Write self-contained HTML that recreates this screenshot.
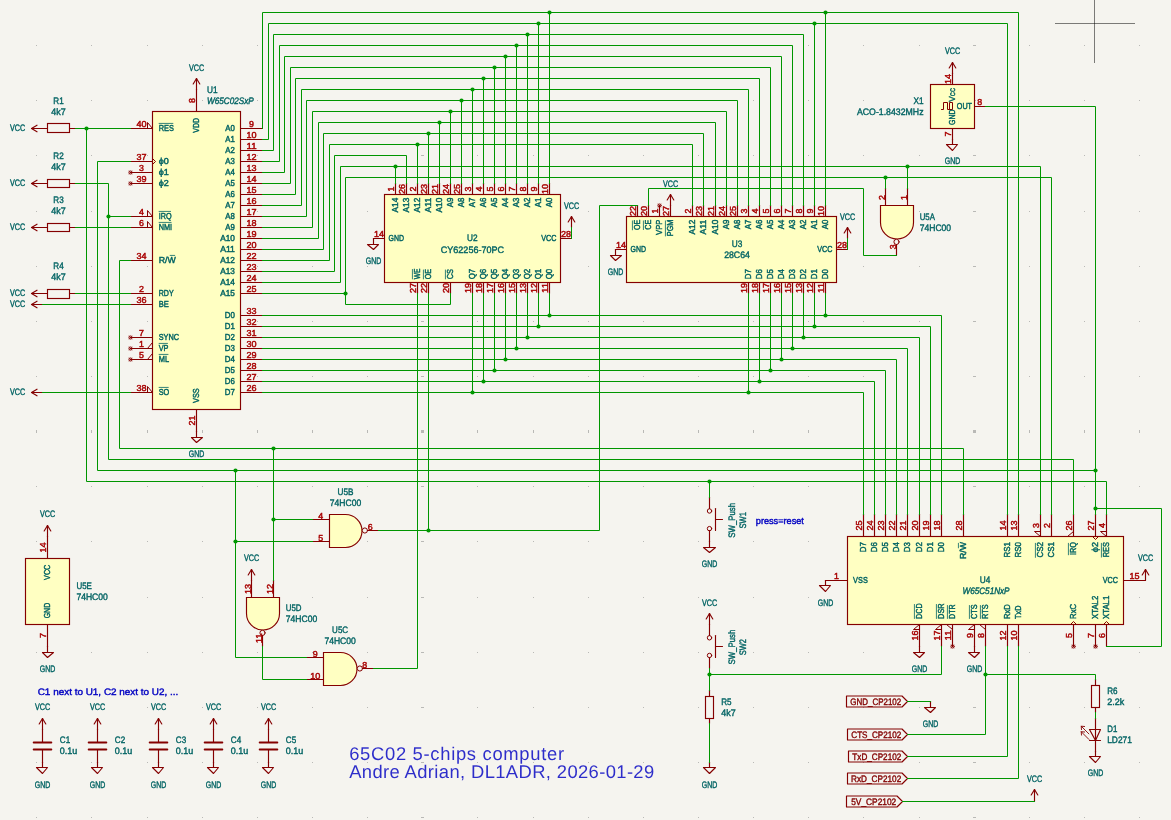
<!DOCTYPE html>
<html lang="en"><head><meta charset="utf-8"><title>65C02 5-chips computer</title>
<style>
html,body{margin:0;padding:0;background:#f5f4ef;overflow:hidden}
svg{display:block;will-change:transform}
text{font-family:"Liberation Sans","DejaVu Sans",sans-serif;font-size:9.4px;stroke-width:0.4px;text-rendering:geometricPrecision}
</style></head><body>
<svg width="1171" height="820" viewBox="0 0 1171 820">
<rect width="1171" height="820" fill="#f5f4ef"/>
<g fill="#b9b9b6" shape-rendering="crispEdges">
<rect x="36" y="45" width="1" height="1"/>
<rect x="36" y="100" width="1" height="1"/>
<rect x="36" y="155" width="1" height="1"/>
<rect x="36" y="211" width="1" height="1"/>
<rect x="36" y="266" width="1" height="1"/>
<rect x="36" y="321" width="1" height="1"/>
<rect x="36" y="376" width="1" height="1"/>
<rect x="36" y="430" width="1" height="3"/>
<rect x="36" y="486" width="1" height="1"/>
<rect x="36" y="541" width="1" height="1"/>
<rect x="36" y="597" width="1" height="1"/>
<rect x="36" y="652" width="1" height="1"/>
<rect x="36" y="707" width="1" height="1"/>
<rect x="36" y="762" width="1" height="1"/>
<rect x="36" y="817" width="1" height="1"/>
<rect x="91" y="45" width="1" height="1"/>
<rect x="91" y="100" width="1" height="1"/>
<rect x="91" y="155" width="1" height="1"/>
<rect x="91" y="211" width="1" height="1"/>
<rect x="91" y="266" width="1" height="1"/>
<rect x="91" y="321" width="1" height="1"/>
<rect x="91" y="376" width="1" height="1"/>
<rect x="91" y="430" width="1" height="3"/>
<rect x="91" y="486" width="1" height="1"/>
<rect x="91" y="541" width="1" height="1"/>
<rect x="91" y="597" width="1" height="1"/>
<rect x="91" y="652" width="1" height="1"/>
<rect x="91" y="707" width="1" height="1"/>
<rect x="91" y="762" width="1" height="1"/>
<rect x="91" y="817" width="1" height="1"/>
<rect x="147" y="45" width="1" height="1"/>
<rect x="147" y="100" width="1" height="1"/>
<rect x="147" y="155" width="1" height="1"/>
<rect x="147" y="211" width="1" height="1"/>
<rect x="147" y="266" width="1" height="1"/>
<rect x="147" y="321" width="1" height="1"/>
<rect x="147" y="376" width="1" height="1"/>
<rect x="147" y="430" width="1" height="3"/>
<rect x="147" y="486" width="1" height="1"/>
<rect x="147" y="541" width="1" height="1"/>
<rect x="147" y="597" width="1" height="1"/>
<rect x="147" y="652" width="1" height="1"/>
<rect x="147" y="707" width="1" height="1"/>
<rect x="147" y="762" width="1" height="1"/>
<rect x="147" y="817" width="1" height="1"/>
<rect x="202" y="45" width="1" height="1"/>
<rect x="202" y="100" width="1" height="1"/>
<rect x="202" y="155" width="1" height="1"/>
<rect x="202" y="211" width="1" height="1"/>
<rect x="202" y="266" width="1" height="1"/>
<rect x="202" y="321" width="1" height="1"/>
<rect x="202" y="376" width="1" height="1"/>
<rect x="202" y="430" width="1" height="3"/>
<rect x="202" y="486" width="1" height="1"/>
<rect x="202" y="541" width="1" height="1"/>
<rect x="202" y="597" width="1" height="1"/>
<rect x="202" y="652" width="1" height="1"/>
<rect x="202" y="707" width="1" height="1"/>
<rect x="202" y="762" width="1" height="1"/>
<rect x="202" y="817" width="1" height="1"/>
<rect x="257" y="45" width="1" height="1"/>
<rect x="257" y="100" width="1" height="1"/>
<rect x="257" y="155" width="1" height="1"/>
<rect x="257" y="211" width="1" height="1"/>
<rect x="257" y="266" width="1" height="1"/>
<rect x="257" y="321" width="1" height="1"/>
<rect x="257" y="376" width="1" height="1"/>
<rect x="257" y="430" width="1" height="3"/>
<rect x="257" y="486" width="1" height="1"/>
<rect x="257" y="541" width="1" height="1"/>
<rect x="257" y="597" width="1" height="1"/>
<rect x="257" y="652" width="1" height="1"/>
<rect x="257" y="707" width="1" height="1"/>
<rect x="257" y="762" width="1" height="1"/>
<rect x="257" y="817" width="1" height="1"/>
<rect x="312" y="45" width="1" height="1"/>
<rect x="312" y="100" width="1" height="1"/>
<rect x="312" y="155" width="1" height="1"/>
<rect x="312" y="211" width="1" height="1"/>
<rect x="312" y="266" width="1" height="1"/>
<rect x="312" y="321" width="1" height="1"/>
<rect x="312" y="376" width="1" height="1"/>
<rect x="312" y="430" width="1" height="3"/>
<rect x="312" y="486" width="1" height="1"/>
<rect x="312" y="541" width="1" height="1"/>
<rect x="312" y="597" width="1" height="1"/>
<rect x="312" y="652" width="1" height="1"/>
<rect x="312" y="707" width="1" height="1"/>
<rect x="312" y="762" width="1" height="1"/>
<rect x="312" y="817" width="1" height="1"/>
<rect x="367" y="45" width="1" height="1"/>
<rect x="367" y="100" width="1" height="1"/>
<rect x="367" y="155" width="1" height="1"/>
<rect x="367" y="211" width="1" height="1"/>
<rect x="367" y="266" width="1" height="1"/>
<rect x="367" y="321" width="1" height="1"/>
<rect x="367" y="376" width="1" height="1"/>
<rect x="367" y="430" width="1" height="3"/>
<rect x="367" y="486" width="1" height="1"/>
<rect x="367" y="541" width="1" height="1"/>
<rect x="367" y="597" width="1" height="1"/>
<rect x="367" y="652" width="1" height="1"/>
<rect x="367" y="707" width="1" height="1"/>
<rect x="367" y="762" width="1" height="1"/>
<rect x="367" y="817" width="1" height="1"/>
<rect x="421" y="45" width="3" height="1"/>
<rect x="421" y="100" width="3" height="1"/>
<rect x="421" y="155" width="3" height="1"/>
<rect x="421" y="211" width="3" height="1"/>
<rect x="421" y="266" width="3" height="1"/>
<rect x="421" y="321" width="3" height="1"/>
<rect x="421" y="376" width="3" height="1"/>
<rect x="421" y="430" width="3" height="3"/>
<rect x="421" y="486" width="3" height="1"/>
<rect x="421" y="541" width="3" height="1"/>
<rect x="421" y="597" width="3" height="1"/>
<rect x="421" y="652" width="3" height="1"/>
<rect x="421" y="707" width="3" height="1"/>
<rect x="421" y="762" width="3" height="1"/>
<rect x="421" y="817" width="3" height="1"/>
<rect x="477" y="45" width="1" height="1"/>
<rect x="477" y="100" width="1" height="1"/>
<rect x="477" y="155" width="1" height="1"/>
<rect x="477" y="211" width="1" height="1"/>
<rect x="477" y="266" width="1" height="1"/>
<rect x="477" y="321" width="1" height="1"/>
<rect x="477" y="376" width="1" height="1"/>
<rect x="477" y="430" width="1" height="3"/>
<rect x="477" y="486" width="1" height="1"/>
<rect x="477" y="541" width="1" height="1"/>
<rect x="477" y="597" width="1" height="1"/>
<rect x="477" y="652" width="1" height="1"/>
<rect x="477" y="707" width="1" height="1"/>
<rect x="477" y="762" width="1" height="1"/>
<rect x="477" y="817" width="1" height="1"/>
<rect x="533" y="45" width="1" height="1"/>
<rect x="533" y="100" width="1" height="1"/>
<rect x="533" y="155" width="1" height="1"/>
<rect x="533" y="211" width="1" height="1"/>
<rect x="533" y="266" width="1" height="1"/>
<rect x="533" y="321" width="1" height="1"/>
<rect x="533" y="376" width="1" height="1"/>
<rect x="533" y="430" width="1" height="3"/>
<rect x="533" y="486" width="1" height="1"/>
<rect x="533" y="541" width="1" height="1"/>
<rect x="533" y="597" width="1" height="1"/>
<rect x="533" y="652" width="1" height="1"/>
<rect x="533" y="707" width="1" height="1"/>
<rect x="533" y="762" width="1" height="1"/>
<rect x="533" y="817" width="1" height="1"/>
<rect x="588" y="45" width="1" height="1"/>
<rect x="588" y="100" width="1" height="1"/>
<rect x="588" y="155" width="1" height="1"/>
<rect x="588" y="211" width="1" height="1"/>
<rect x="588" y="266" width="1" height="1"/>
<rect x="588" y="321" width="1" height="1"/>
<rect x="588" y="376" width="1" height="1"/>
<rect x="588" y="430" width="1" height="3"/>
<rect x="588" y="486" width="1" height="1"/>
<rect x="588" y="541" width="1" height="1"/>
<rect x="588" y="597" width="1" height="1"/>
<rect x="588" y="652" width="1" height="1"/>
<rect x="588" y="707" width="1" height="1"/>
<rect x="588" y="762" width="1" height="1"/>
<rect x="588" y="817" width="1" height="1"/>
<rect x="643" y="45" width="1" height="1"/>
<rect x="643" y="100" width="1" height="1"/>
<rect x="643" y="155" width="1" height="1"/>
<rect x="643" y="211" width="1" height="1"/>
<rect x="643" y="266" width="1" height="1"/>
<rect x="643" y="321" width="1" height="1"/>
<rect x="643" y="376" width="1" height="1"/>
<rect x="643" y="430" width="1" height="3"/>
<rect x="643" y="486" width="1" height="1"/>
<rect x="643" y="541" width="1" height="1"/>
<rect x="643" y="597" width="1" height="1"/>
<rect x="643" y="652" width="1" height="1"/>
<rect x="643" y="707" width="1" height="1"/>
<rect x="643" y="762" width="1" height="1"/>
<rect x="643" y="817" width="1" height="1"/>
<rect x="698" y="45" width="1" height="1"/>
<rect x="698" y="100" width="1" height="1"/>
<rect x="698" y="155" width="1" height="1"/>
<rect x="698" y="211" width="1" height="1"/>
<rect x="698" y="266" width="1" height="1"/>
<rect x="698" y="321" width="1" height="1"/>
<rect x="698" y="376" width="1" height="1"/>
<rect x="698" y="430" width="1" height="3"/>
<rect x="698" y="486" width="1" height="1"/>
<rect x="698" y="541" width="1" height="1"/>
<rect x="698" y="597" width="1" height="1"/>
<rect x="698" y="652" width="1" height="1"/>
<rect x="698" y="707" width="1" height="1"/>
<rect x="698" y="762" width="1" height="1"/>
<rect x="698" y="817" width="1" height="1"/>
<rect x="753" y="45" width="1" height="1"/>
<rect x="753" y="100" width="1" height="1"/>
<rect x="753" y="155" width="1" height="1"/>
<rect x="753" y="211" width="1" height="1"/>
<rect x="753" y="266" width="1" height="1"/>
<rect x="753" y="321" width="1" height="1"/>
<rect x="753" y="376" width="1" height="1"/>
<rect x="753" y="430" width="1" height="3"/>
<rect x="753" y="486" width="1" height="1"/>
<rect x="753" y="541" width="1" height="1"/>
<rect x="753" y="597" width="1" height="1"/>
<rect x="753" y="652" width="1" height="1"/>
<rect x="753" y="707" width="1" height="1"/>
<rect x="753" y="762" width="1" height="1"/>
<rect x="753" y="817" width="1" height="1"/>
<rect x="808" y="45" width="1" height="1"/>
<rect x="808" y="100" width="1" height="1"/>
<rect x="808" y="155" width="1" height="1"/>
<rect x="808" y="211" width="1" height="1"/>
<rect x="808" y="266" width="1" height="1"/>
<rect x="808" y="321" width="1" height="1"/>
<rect x="808" y="376" width="1" height="1"/>
<rect x="808" y="430" width="1" height="3"/>
<rect x="808" y="486" width="1" height="1"/>
<rect x="808" y="541" width="1" height="1"/>
<rect x="808" y="597" width="1" height="1"/>
<rect x="808" y="652" width="1" height="1"/>
<rect x="808" y="707" width="1" height="1"/>
<rect x="808" y="762" width="1" height="1"/>
<rect x="808" y="817" width="1" height="1"/>
<rect x="863" y="45" width="1" height="1"/>
<rect x="863" y="100" width="1" height="1"/>
<rect x="863" y="155" width="1" height="1"/>
<rect x="863" y="211" width="1" height="1"/>
<rect x="863" y="266" width="1" height="1"/>
<rect x="863" y="321" width="1" height="1"/>
<rect x="863" y="376" width="1" height="1"/>
<rect x="863" y="430" width="1" height="3"/>
<rect x="863" y="486" width="1" height="1"/>
<rect x="863" y="541" width="1" height="1"/>
<rect x="863" y="597" width="1" height="1"/>
<rect x="863" y="652" width="1" height="1"/>
<rect x="863" y="707" width="1" height="1"/>
<rect x="863" y="762" width="1" height="1"/>
<rect x="863" y="817" width="1" height="1"/>
<rect x="919" y="45" width="1" height="1"/>
<rect x="919" y="100" width="1" height="1"/>
<rect x="919" y="155" width="1" height="1"/>
<rect x="919" y="211" width="1" height="1"/>
<rect x="919" y="266" width="1" height="1"/>
<rect x="919" y="321" width="1" height="1"/>
<rect x="919" y="376" width="1" height="1"/>
<rect x="919" y="430" width="1" height="3"/>
<rect x="919" y="486" width="1" height="1"/>
<rect x="919" y="541" width="1" height="1"/>
<rect x="919" y="597" width="1" height="1"/>
<rect x="919" y="652" width="1" height="1"/>
<rect x="919" y="707" width="1" height="1"/>
<rect x="919" y="762" width="1" height="1"/>
<rect x="919" y="817" width="1" height="1"/>
<rect x="973" y="45" width="3" height="1"/>
<rect x="973" y="100" width="3" height="1"/>
<rect x="973" y="155" width="3" height="1"/>
<rect x="973" y="211" width="3" height="1"/>
<rect x="973" y="266" width="3" height="1"/>
<rect x="973" y="321" width="3" height="1"/>
<rect x="973" y="376" width="3" height="1"/>
<rect x="973" y="430" width="3" height="3"/>
<rect x="973" y="486" width="3" height="1"/>
<rect x="973" y="541" width="3" height="1"/>
<rect x="973" y="597" width="3" height="1"/>
<rect x="973" y="652" width="3" height="1"/>
<rect x="973" y="707" width="3" height="1"/>
<rect x="973" y="762" width="3" height="1"/>
<rect x="973" y="817" width="3" height="1"/>
<rect x="1029" y="45" width="1" height="1"/>
<rect x="1029" y="100" width="1" height="1"/>
<rect x="1029" y="155" width="1" height="1"/>
<rect x="1029" y="211" width="1" height="1"/>
<rect x="1029" y="266" width="1" height="1"/>
<rect x="1029" y="321" width="1" height="1"/>
<rect x="1029" y="376" width="1" height="1"/>
<rect x="1029" y="430" width="1" height="3"/>
<rect x="1029" y="486" width="1" height="1"/>
<rect x="1029" y="541" width="1" height="1"/>
<rect x="1029" y="597" width="1" height="1"/>
<rect x="1029" y="652" width="1" height="1"/>
<rect x="1029" y="707" width="1" height="1"/>
<rect x="1029" y="762" width="1" height="1"/>
<rect x="1029" y="817" width="1" height="1"/>
<rect x="1084" y="45" width="1" height="1"/>
<rect x="1084" y="100" width="1" height="1"/>
<rect x="1084" y="155" width="1" height="1"/>
<rect x="1084" y="211" width="1" height="1"/>
<rect x="1084" y="266" width="1" height="1"/>
<rect x="1084" y="321" width="1" height="1"/>
<rect x="1084" y="376" width="1" height="1"/>
<rect x="1084" y="430" width="1" height="3"/>
<rect x="1084" y="486" width="1" height="1"/>
<rect x="1084" y="541" width="1" height="1"/>
<rect x="1084" y="597" width="1" height="1"/>
<rect x="1084" y="652" width="1" height="1"/>
<rect x="1084" y="707" width="1" height="1"/>
<rect x="1084" y="762" width="1" height="1"/>
<rect x="1084" y="817" width="1" height="1"/>
<rect x="1139" y="45" width="1" height="1"/>
<rect x="1139" y="100" width="1" height="1"/>
<rect x="1139" y="155" width="1" height="1"/>
<rect x="1139" y="211" width="1" height="1"/>
<rect x="1139" y="266" width="1" height="1"/>
<rect x="1139" y="321" width="1" height="1"/>
<rect x="1139" y="376" width="1" height="1"/>
<rect x="1139" y="430" width="1" height="3"/>
<rect x="1139" y="486" width="1" height="1"/>
<rect x="1139" y="541" width="1" height="1"/>
<rect x="1139" y="597" width="1" height="1"/>
<rect x="1139" y="652" width="1" height="1"/>
<rect x="1139" y="707" width="1" height="1"/>
<rect x="1139" y="762" width="1" height="1"/>
<rect x="1139" y="817" width="1" height="1"/>
<rect x="1194" y="45" width="1" height="1"/>
<rect x="1194" y="100" width="1" height="1"/>
<rect x="1194" y="155" width="1" height="1"/>
<rect x="1194" y="211" width="1" height="1"/>
<rect x="1194" y="266" width="1" height="1"/>
<rect x="1194" y="321" width="1" height="1"/>
<rect x="1194" y="376" width="1" height="1"/>
<rect x="1194" y="430" width="1" height="3"/>
<rect x="1194" y="486" width="1" height="1"/>
<rect x="1194" y="541" width="1" height="1"/>
<rect x="1194" y="597" width="1" height="1"/>
<rect x="1194" y="652" width="1" height="1"/>
<rect x="1194" y="707" width="1" height="1"/>
<rect x="1194" y="762" width="1" height="1"/>
<rect x="1194" y="817" width="1" height="1"/>
</g>
<g>
<rect x="152.5" y="111.5" width="88" height="298" fill="#ffffc2" stroke="#840000" stroke-width="1.15"/>
<rect x="47.5" y="123.5" width="22" height="9" fill="none" stroke="#840000" stroke-width="1.15"/>
<rect x="47.5" y="179.5" width="22" height="8" fill="none" stroke="#840000" stroke-width="1.15"/>
<rect x="47.5" y="223.5" width="22" height="8" fill="none" stroke="#840000" stroke-width="1.15"/>
<rect x="47.5" y="289.5" width="22" height="9" fill="none" stroke="#840000" stroke-width="1.15"/>
<rect x="384.5" y="194.5" width="176" height="88" fill="#ffffc2" stroke="#840000" stroke-width="1.15"/>
<rect x="626.5" y="216.5" width="210" height="66" fill="#ffffc2" stroke="#840000" stroke-width="1.15"/>
<rect x="847.5" y="536.5" width="276" height="88" fill="#ffffc2" stroke="#840000" stroke-width="1.15"/>
<path d="M913.5 222.5V205.5H880.5V222.5A16.5 16.5 0 0 0 913.5 222.5Z" fill="#ffffc2" stroke="#840000" stroke-width="1.15"/>
<rect x="930.5" y="84.5" width="44" height="44" fill="#ffffc2" stroke="#840000" stroke-width="1.15"/>
<path d="M345.5 514.5H329.5V547.5H345.5A16.5 16.5 0 0 0 345.5 514.5Z" fill="#ffffc2" stroke="#840000" stroke-width="1.15"/>
<path d="M340.5 652.5H323.5V685.5H340.5A16.5 16.5 0 0 0 340.5 652.5Z" fill="#ffffc2" stroke="#840000" stroke-width="1.15"/>
<path d="M279.5 613.5V597.5H246.5V613.5A16.5 16.5 0 0 0 279.5 613.5Z" fill="#ffffc2" stroke="#840000" stroke-width="1.15"/>
<rect x="25.5" y="558.5" width="44" height="66" fill="#ffffc2" stroke="#840000" stroke-width="1.15"/>
<rect x="705.5" y="696.5" width="8" height="22" fill="none" stroke="#840000" stroke-width="1.15"/>
<rect x="1091.5" y="685.5" width="8" height="22" fill="none" stroke="#840000" stroke-width="1.15"/>
</g>
<g stroke-linecap="round" stroke-linejoin="round">
<path d="M152.5 128.5 L130.5 128.5" stroke="#840000" stroke-width="1.15" fill="none"/>
<path d="M147.5 128.5 L147.5 122.5 L152.5 128.5" stroke="#840000" stroke-width="1" fill="none"/>
<path d="M152.5 161.5 L130.5 161.5" stroke="#840000" stroke-width="1.15" fill="none"/>
<path d="M152.5 158.5 L155.5 161.5 L152.5 164.5" stroke="#840000" stroke-width="1" fill="none"/>
<path d="M152.5 172.5 L130.5 172.5" stroke="#840000" stroke-width="1.15" fill="none"/>
<path d="M152.5 183.5 L130.5 183.5" stroke="#840000" stroke-width="1.15" fill="none"/>
<path d="M152.5 216.5 L130.5 216.5" stroke="#840000" stroke-width="1.15" fill="none"/>
<path d="M147.5 216.5 L147.5 210.5 L152.5 216.5" stroke="#840000" stroke-width="1" fill="none"/>
<path d="M152.5 227.5 L130.5 227.5" stroke="#840000" stroke-width="1.15" fill="none"/>
<path d="M147.5 227.5 L147.5 221.5 L152.5 227.5" stroke="#840000" stroke-width="1" fill="none"/>
<path d="M152.5 260.5 L130.5 260.5" stroke="#840000" stroke-width="1.15" fill="none"/>
<path d="M152.5 293.5 L130.5 293.5" stroke="#840000" stroke-width="1.15" fill="none"/>
<path d="M152.5 304.5 L130.5 304.5" stroke="#840000" stroke-width="1.15" fill="none"/>
<path d="M152.5 337.5 L130.5 337.5" stroke="#840000" stroke-width="1.15" fill="none"/>
<path d="M152.5 348.5 L130.5 348.5" stroke="#840000" stroke-width="1.15" fill="none"/>
<path d="M147.5 348.5 L152.5 342.5" stroke="#840000" stroke-width="1" fill="none"/>
<path d="M152.5 359.5 L130.5 359.5" stroke="#840000" stroke-width="1.15" fill="none"/>
<path d="M147.5 359.5 L152.5 353.5" stroke="#840000" stroke-width="1" fill="none"/>
<path d="M152.5 392.5 L130.5 392.5" stroke="#840000" stroke-width="1.15" fill="none"/>
<path d="M147.5 392.5 L147.5 386.5 L152.5 392.5" stroke="#840000" stroke-width="1" fill="none"/>
<path d="M240.5 128.5 L262.5 128.5" stroke="#840000" stroke-width="1.15" fill="none"/>
<path d="M240.5 139.5 L262.5 139.5" stroke="#840000" stroke-width="1.15" fill="none"/>
<path d="M240.5 150.5 L262.5 150.5" stroke="#840000" stroke-width="1.15" fill="none"/>
<path d="M240.5 161.5 L262.5 161.5" stroke="#840000" stroke-width="1.15" fill="none"/>
<path d="M240.5 172.5 L262.5 172.5" stroke="#840000" stroke-width="1.15" fill="none"/>
<path d="M240.5 183.5 L262.5 183.5" stroke="#840000" stroke-width="1.15" fill="none"/>
<path d="M240.5 194.5 L262.5 194.5" stroke="#840000" stroke-width="1.15" fill="none"/>
<path d="M240.5 205.5 L262.5 205.5" stroke="#840000" stroke-width="1.15" fill="none"/>
<path d="M240.5 216.5 L262.5 216.5" stroke="#840000" stroke-width="1.15" fill="none"/>
<path d="M240.5 227.5 L262.5 227.5" stroke="#840000" stroke-width="1.15" fill="none"/>
<path d="M240.5 238.5 L262.5 238.5" stroke="#840000" stroke-width="1.15" fill="none"/>
<path d="M240.5 249.5 L262.5 249.5" stroke="#840000" stroke-width="1.15" fill="none"/>
<path d="M240.5 260.5 L262.5 260.5" stroke="#840000" stroke-width="1.15" fill="none"/>
<path d="M240.5 271.5 L262.5 271.5" stroke="#840000" stroke-width="1.15" fill="none"/>
<path d="M240.5 282.5 L262.5 282.5" stroke="#840000" stroke-width="1.15" fill="none"/>
<path d="M240.5 293.5 L262.5 293.5" stroke="#840000" stroke-width="1.15" fill="none"/>
<path d="M240.5 315.5 L262.5 315.5" stroke="#840000" stroke-width="1.15" fill="none"/>
<path d="M240.5 326.5 L262.5 326.5" stroke="#840000" stroke-width="1.15" fill="none"/>
<path d="M240.5 337.5 L262.5 337.5" stroke="#840000" stroke-width="1.15" fill="none"/>
<path d="M240.5 348.5 L262.5 348.5" stroke="#840000" stroke-width="1.15" fill="none"/>
<path d="M240.5 359.5 L262.5 359.5" stroke="#840000" stroke-width="1.15" fill="none"/>
<path d="M240.5 370.5 L262.5 370.5" stroke="#840000" stroke-width="1.15" fill="none"/>
<path d="M240.5 381.5 L262.5 381.5" stroke="#840000" stroke-width="1.15" fill="none"/>
<path d="M240.5 392.5 L262.5 392.5" stroke="#840000" stroke-width="1.15" fill="none"/>
<path d="M196.5 111.5 L196.5 89.5" stroke="#840000" stroke-width="1.15" fill="none"/>
<path d="M196.5 89.5 L196.5 78.5" stroke="#840000" stroke-width="1.15" fill="none"/>
<path d="M193.19 84.01 L196.5 78.5 L199.81 84.01" stroke="#840000" stroke-width="1.15" fill="none"/>
<path d="M196.5 409.5 L196.5 431.5" stroke="#840000" stroke-width="1.15" fill="none"/>
<path d="M196.5 431.5 L196.5 437.5" stroke="#840000" stroke-width="1.15" fill="none"/>
<path d="M191.5 437.5 L202.5 437.5 L196.5 442.5Z" stroke="#840000" stroke-width="1.15" fill="none"/>
<g stroke="#840000" stroke-opacity="0.8" stroke-width="0.7" fill="none"><circle cx="130.5" cy="172.5" r="1.8" fill="#840000" fill-opacity="0.4"/><path d="M129 171l3 3m0 -3l-3 3"/></g>
<g stroke="#840000" stroke-opacity="0.8" stroke-width="0.7" fill="none"><circle cx="130.5" cy="183.5" r="1.8" fill="#840000" fill-opacity="0.4"/><path d="M129 182l3 3m0 -3l-3 3"/></g>
<g stroke="#840000" stroke-opacity="0.8" stroke-width="0.7" fill="none"><circle cx="130.5" cy="337.5" r="1.8" fill="#840000" fill-opacity="0.4"/><path d="M129 336l3 3m0 -3l-3 3"/></g>
<g stroke="#840000" stroke-opacity="0.8" stroke-width="0.7" fill="none"><circle cx="130.5" cy="348.5" r="1.8" fill="#840000" fill-opacity="0.4"/><path d="M129 347l3 3m0 -3l-3 3"/></g>
<g stroke="#840000" stroke-opacity="0.8" stroke-width="0.7" fill="none"><circle cx="130.5" cy="359.5" r="1.8" fill="#840000" fill-opacity="0.4"/><path d="M129 358l3 3m0 -3l-3 3"/></g>
<path d="M42.5 128.5 L47.5 128.5" stroke="#840000" stroke-width="1.15" fill="none"/>
<path d="M69.5 128.5 L75.5 128.5" stroke="#840000" stroke-width="1.15" fill="none"/>
<path d="M42.5 128.5 L31.5 128.5" stroke="#840000" stroke-width="1.15" fill="none"/>
<path d="M37.01 125.19 L31.5 128.5 L37.01 131.81" stroke="#840000" stroke-width="1.15" fill="none"/>
<path d="M42.5 183.5 L47.5 183.5" stroke="#840000" stroke-width="1.15" fill="none"/>
<path d="M69.5 183.5 L75.5 183.5" stroke="#840000" stroke-width="1.15" fill="none"/>
<path d="M42.5 183.5 L31.5 183.5" stroke="#840000" stroke-width="1.15" fill="none"/>
<path d="M37.01 180.19 L31.5 183.5 L37.01 186.81" stroke="#840000" stroke-width="1.15" fill="none"/>
<path d="M42.5 227.5 L47.5 227.5" stroke="#840000" stroke-width="1.15" fill="none"/>
<path d="M69.5 227.5 L75.5 227.5" stroke="#840000" stroke-width="1.15" fill="none"/>
<path d="M42.5 227.5 L31.5 227.5" stroke="#840000" stroke-width="1.15" fill="none"/>
<path d="M37.01 224.19 L31.5 227.5 L37.01 230.81" stroke="#840000" stroke-width="1.15" fill="none"/>
<path d="M42.5 293.5 L47.5 293.5" stroke="#840000" stroke-width="1.15" fill="none"/>
<path d="M69.5 293.5 L75.5 293.5" stroke="#840000" stroke-width="1.15" fill="none"/>
<path d="M42.5 293.5 L31.5 293.5" stroke="#840000" stroke-width="1.15" fill="none"/>
<path d="M37.01 290.19 L31.5 293.5 L37.01 296.81" stroke="#840000" stroke-width="1.15" fill="none"/>
<path d="M42.5 304.5 L31.5 304.5" stroke="#840000" stroke-width="1.15" fill="none"/>
<path d="M37.01 301.19 L31.5 304.5 L37.01 307.81" stroke="#840000" stroke-width="1.15" fill="none"/>
<path d="M42.5 392.5 L31.5 392.5" stroke="#840000" stroke-width="1.15" fill="none"/>
<path d="M37.01 389.19 L31.5 392.5 L37.01 395.81" stroke="#840000" stroke-width="1.15" fill="none"/>
<path d="M549.5 194.5 L549.5 183.5" stroke="#840000" stroke-width="1.15" fill="none"/>
<path d="M538.5 194.5 L538.5 183.5" stroke="#840000" stroke-width="1.15" fill="none"/>
<path d="M527.5 194.5 L527.5 183.5" stroke="#840000" stroke-width="1.15" fill="none"/>
<path d="M516.5 194.5 L516.5 183.5" stroke="#840000" stroke-width="1.15" fill="none"/>
<path d="M505.5 194.5 L505.5 183.5" stroke="#840000" stroke-width="1.15" fill="none"/>
<path d="M494.5 194.5 L494.5 183.5" stroke="#840000" stroke-width="1.15" fill="none"/>
<path d="M483.5 194.5 L483.5 183.5" stroke="#840000" stroke-width="1.15" fill="none"/>
<path d="M472.5 194.5 L472.5 183.5" stroke="#840000" stroke-width="1.15" fill="none"/>
<path d="M461.5 194.5 L461.5 183.5" stroke="#840000" stroke-width="1.15" fill="none"/>
<path d="M450.5 194.5 L450.5 183.5" stroke="#840000" stroke-width="1.15" fill="none"/>
<path d="M439.5 194.5 L439.5 183.5" stroke="#840000" stroke-width="1.15" fill="none"/>
<path d="M428.5 194.5 L428.5 183.5" stroke="#840000" stroke-width="1.15" fill="none"/>
<path d="M417.5 194.5 L417.5 183.5" stroke="#840000" stroke-width="1.15" fill="none"/>
<path d="M406.5 194.5 L406.5 183.5" stroke="#840000" stroke-width="1.15" fill="none"/>
<path d="M395.5 194.5 L395.5 183.5" stroke="#840000" stroke-width="1.15" fill="none"/>
<path d="M549.5 282.5 L549.5 293.5" stroke="#840000" stroke-width="1.15" fill="none"/>
<path d="M538.5 282.5 L538.5 293.5" stroke="#840000" stroke-width="1.15" fill="none"/>
<path d="M527.5 282.5 L527.5 293.5" stroke="#840000" stroke-width="1.15" fill="none"/>
<path d="M516.5 282.5 L516.5 293.5" stroke="#840000" stroke-width="1.15" fill="none"/>
<path d="M505.5 282.5 L505.5 293.5" stroke="#840000" stroke-width="1.15" fill="none"/>
<path d="M494.5 282.5 L494.5 293.5" stroke="#840000" stroke-width="1.15" fill="none"/>
<path d="M483.5 282.5 L483.5 293.5" stroke="#840000" stroke-width="1.15" fill="none"/>
<path d="M472.5 282.5 L472.5 293.5" stroke="#840000" stroke-width="1.15" fill="none"/>
<path d="M450.5 282.5 L450.5 293.5" stroke="#840000" stroke-width="1.15" fill="none"/>
<path d="M428.5 282.5 L428.5 293.5" stroke="#840000" stroke-width="1.15" fill="none"/>
<path d="M417.5 282.5 L417.5 293.5" stroke="#840000" stroke-width="1.15" fill="none"/>
<path d="M384.5 238.5 L373.5 238.5" stroke="#840000" stroke-width="1.15" fill="none"/>
<path d="M373.5 238.5 L373.5 244.5" stroke="#840000" stroke-width="1.15" fill="none"/>
<path d="M367.5 244.5 L378.5 244.5 L373.5 249.5Z" stroke="#840000" stroke-width="1.15" fill="none"/>
<path d="M560.5 238.5 L571.5 238.5" stroke="#840000" stroke-width="1.15" fill="none"/>
<path d="M571.5 227.5 L571.5 216.5" stroke="#840000" stroke-width="1.15" fill="none"/>
<path d="M568.19 222.01 L571.5 216.5 L574.81 222.01" stroke="#840000" stroke-width="1.15" fill="none"/>
<path d="M825.5 216.5 L825.5 205.5" stroke="#840000" stroke-width="1.15" fill="none"/>
<path d="M814.5 216.5 L814.5 205.5" stroke="#840000" stroke-width="1.15" fill="none"/>
<path d="M803.5 216.5 L803.5 205.5" stroke="#840000" stroke-width="1.15" fill="none"/>
<path d="M792.5 216.5 L792.5 205.5" stroke="#840000" stroke-width="1.15" fill="none"/>
<path d="M781.5 216.5 L781.5 205.5" stroke="#840000" stroke-width="1.15" fill="none"/>
<path d="M770.5 216.5 L770.5 205.5" stroke="#840000" stroke-width="1.15" fill="none"/>
<path d="M759.5 216.5 L759.5 205.5" stroke="#840000" stroke-width="1.15" fill="none"/>
<path d="M748.5 216.5 L748.5 205.5" stroke="#840000" stroke-width="1.15" fill="none"/>
<path d="M737.5 216.5 L737.5 205.5" stroke="#840000" stroke-width="1.15" fill="none"/>
<path d="M726.5 216.5 L726.5 205.5" stroke="#840000" stroke-width="1.15" fill="none"/>
<path d="M715.5 216.5 L715.5 205.5" stroke="#840000" stroke-width="1.15" fill="none"/>
<path d="M703.5 216.5 L703.5 205.5" stroke="#840000" stroke-width="1.15" fill="none"/>
<path d="M692.5 216.5 L692.5 205.5" stroke="#840000" stroke-width="1.15" fill="none"/>
<path d="M825.5 282.5 L825.5 293.5" stroke="#840000" stroke-width="1.15" fill="none"/>
<path d="M814.5 282.5 L814.5 293.5" stroke="#840000" stroke-width="1.15" fill="none"/>
<path d="M803.5 282.5 L803.5 293.5" stroke="#840000" stroke-width="1.15" fill="none"/>
<path d="M792.5 282.5 L792.5 293.5" stroke="#840000" stroke-width="1.15" fill="none"/>
<path d="M781.5 282.5 L781.5 293.5" stroke="#840000" stroke-width="1.15" fill="none"/>
<path d="M770.5 282.5 L770.5 293.5" stroke="#840000" stroke-width="1.15" fill="none"/>
<path d="M759.5 282.5 L759.5 293.5" stroke="#840000" stroke-width="1.15" fill="none"/>
<path d="M748.5 282.5 L748.5 293.5" stroke="#840000" stroke-width="1.15" fill="none"/>
<path d="M670.5 216.5 L670.5 205.5" stroke="#840000" stroke-width="1.15" fill="none"/>
<path d="M659.5 216.5 L659.5 205.5" stroke="#840000" stroke-width="1.15" fill="none"/>
<path d="M648.5 216.5 L648.5 205.5" stroke="#840000" stroke-width="1.15" fill="none"/>
<path d="M637.5 216.5 L637.5 205.5" stroke="#840000" stroke-width="1.15" fill="none"/>
<g stroke="#840000" stroke-opacity="0.8" stroke-width="0.7" fill="none"><circle cx="659.5" cy="205.5" r="1.8" fill="#840000" fill-opacity="0.4"/><path d="M658 204l3 3m0 -3l-3 3"/></g>
<path d="M670.5 205.5 L670.5 194.5" stroke="#840000" stroke-width="1.15" fill="none"/>
<path d="M667.19 200.01 L670.5 194.5 L673.81 200.01" stroke="#840000" stroke-width="1.15" fill="none"/>
<path d="M626.5 249.5 L615.5 249.5" stroke="#840000" stroke-width="1.15" fill="none"/>
<path d="M615.5 249.5 L615.5 255.5" stroke="#840000" stroke-width="1.15" fill="none"/>
<path d="M610.5 255.5 L621.5 255.5 L615.5 260.5Z" stroke="#840000" stroke-width="1.15" fill="none"/>
<path d="M836.5 249.5 L847.5 249.5" stroke="#840000" stroke-width="1.15" fill="none"/>
<path d="M847.5 238.5 L847.5 227.5" stroke="#840000" stroke-width="1.15" fill="none"/>
<path d="M844.19 233.01 L847.5 227.5 L850.81 233.01" stroke="#840000" stroke-width="1.15" fill="none"/>
<path d="M941.5 536.5 L941.5 514.5" stroke="#840000" stroke-width="1.15" fill="none"/>
<path d="M930.5 536.5 L930.5 514.5" stroke="#840000" stroke-width="1.15" fill="none"/>
<path d="M919.5 536.5 L919.5 514.5" stroke="#840000" stroke-width="1.15" fill="none"/>
<path d="M907.5 536.5 L907.5 514.5" stroke="#840000" stroke-width="1.15" fill="none"/>
<path d="M896.5 536.5 L896.5 514.5" stroke="#840000" stroke-width="1.15" fill="none"/>
<path d="M885.5 536.5 L885.5 514.5" stroke="#840000" stroke-width="1.15" fill="none"/>
<path d="M874.5 536.5 L874.5 514.5" stroke="#840000" stroke-width="1.15" fill="none"/>
<path d="M863.5 536.5 L863.5 514.5" stroke="#840000" stroke-width="1.15" fill="none"/>
<path d="M963.5 536.5 L963.5 514.5" stroke="#840000" stroke-width="1.15" fill="none"/>
<path d="M1007.5 536.5 L1007.5 514.5" stroke="#840000" stroke-width="1.15" fill="none"/>
<path d="M1018.5 536.5 L1018.5 514.5" stroke="#840000" stroke-width="1.15" fill="none"/>
<path d="M1040.5 536.5 L1040.5 514.5" stroke="#840000" stroke-width="1.15" fill="none"/>
<path d="M1040.5 531.5 L1034.5 531.5 L1040.5 536.5" stroke="#840000" stroke-width="1" fill="none"/>
<path d="M1051.5 536.5 L1051.5 514.5" stroke="#840000" stroke-width="1.15" fill="none"/>
<path d="M1073.5 536.5 L1073.5 514.5" stroke="#840000" stroke-width="1.15" fill="none"/>
<path d="M1073.5 531.5 L1067.5 536.5" stroke="#840000" stroke-width="1" fill="none"/>
<path d="M1095.5 536.5 L1095.5 514.5" stroke="#840000" stroke-width="1.15" fill="none"/>
<path d="M1092.5 536.5 L1095.5 539.5 L1098.5 536.5" stroke="#840000" stroke-width="1" fill="none"/>
<path d="M1106.5 536.5 L1106.5 514.5" stroke="#840000" stroke-width="1.15" fill="none"/>
<path d="M1106.5 531.5 L1100.5 531.5 L1106.5 536.5" stroke="#840000" stroke-width="1" fill="none"/>
<path d="M919.5 624.5 L919.5 646.5" stroke="#840000" stroke-width="1.15" fill="none"/>
<path d="M919.5 629.5 L913.5 629.5 L919.5 624.5" stroke="#840000" stroke-width="1" fill="none"/>
<path d="M941.5 624.5 L941.5 646.5" stroke="#840000" stroke-width="1.15" fill="none"/>
<path d="M941.5 629.5 L935.5 629.5 L941.5 624.5" stroke="#840000" stroke-width="1" fill="none"/>
<path d="M952.5 624.5 L952.5 646.5" stroke="#840000" stroke-width="1.15" fill="none"/>
<path d="M952.5 629.5 L946.5 624.5" stroke="#840000" stroke-width="1" fill="none"/>
<path d="M974.5 624.5 L974.5 646.5" stroke="#840000" stroke-width="1.15" fill="none"/>
<path d="M974.5 629.5 L968.5 629.5 L974.5 624.5" stroke="#840000" stroke-width="1" fill="none"/>
<path d="M985.5 624.5 L985.5 646.5" stroke="#840000" stroke-width="1.15" fill="none"/>
<path d="M985.5 629.5 L979.5 624.5" stroke="#840000" stroke-width="1" fill="none"/>
<path d="M1007.5 624.5 L1007.5 646.5" stroke="#840000" stroke-width="1.15" fill="none"/>
<path d="M1018.5 624.5 L1018.5 646.5" stroke="#840000" stroke-width="1.15" fill="none"/>
<path d="M1073.5 624.5 L1073.5 646.5" stroke="#840000" stroke-width="1.15" fill="none"/>
<path d="M1070.5 624.5 L1073.5 621.5 L1076.5 624.5" stroke="#840000" stroke-width="1" fill="none"/>
<path d="M1095.5 624.5 L1095.5 646.5" stroke="#840000" stroke-width="1.15" fill="none"/>
<path d="M1106.5 624.5 L1106.5 646.5" stroke="#840000" stroke-width="1.15" fill="none"/>
<path d="M1103.5 624.5 L1106.5 621.5 L1109.5 624.5" stroke="#840000" stroke-width="1" fill="none"/>
<path d="M847.5 580.5 L825.5 580.5" stroke="#840000" stroke-width="1.15" fill="none"/>
<path d="M825.5 580.5 L825.5 585.5" stroke="#840000" stroke-width="1.15" fill="none"/>
<path d="M819.5 585.5 L830.5 585.5 L825.5 591.5Z" stroke="#840000" stroke-width="1.15" fill="none"/>
<path d="M1123.5 580.5 L1145.5 580.5" stroke="#840000" stroke-width="1.15" fill="none"/>
<path d="M1145.5 580.5 L1145.5 569.5" stroke="#840000" stroke-width="1.15" fill="none"/>
<path d="M1142.19 575.01 L1145.5 569.5 L1148.81 575.01" stroke="#840000" stroke-width="1.15" fill="none"/>
<g stroke="#840000" stroke-opacity="0.8" stroke-width="0.7" fill="none"><circle cx="952.5" cy="646.5" r="1.8" fill="#840000" fill-opacity="0.4"/><path d="M951 645l3 3m0 -3l-3 3"/></g>
<g stroke="#840000" stroke-opacity="0.8" stroke-width="0.7" fill="none"><circle cx="1073.5" cy="646.5" r="1.8" fill="#840000" fill-opacity="0.4"/><path d="M1072 645l3 3m0 -3l-3 3"/></g>
<g stroke="#840000" stroke-opacity="0.8" stroke-width="0.7" fill="none"><circle cx="1095.5" cy="646.5" r="1.8" fill="#840000" fill-opacity="0.4"/><path d="M1094 645l3 3m0 -3l-3 3"/></g>
<path d="M919.5 646.5 L919.5 652.5" stroke="#840000" stroke-width="1.15" fill="none"/>
<path d="M913.5 652.5 L924.5 652.5 L919.5 657.5Z" stroke="#840000" stroke-width="1.15" fill="none"/>
<path d="M974.5 646.5 L974.5 652.5" stroke="#840000" stroke-width="1.15" fill="none"/>
<path d="M968.5 652.5 L979.5 652.5 L974.5 657.5Z" stroke="#840000" stroke-width="1.15" fill="none"/>
<circle cx="896.5" cy="241.9" r="2.6" fill="#f5f4ef" stroke="#840000" stroke-width="1"/>
<path d="M885.5 188.5 L885.5 205.5" stroke="#840000" stroke-width="1.15" fill="none"/>
<path d="M907.5 188.5 L907.5 205.5" stroke="#840000" stroke-width="1.15" fill="none"/>
<path d="M896.5 244.6 L896.5 255.5" stroke="#840000" stroke-width="1.15" fill="none"/>
<path d="M952.5 84.5 L952.5 73.5" stroke="#840000" stroke-width="1.15" fill="none"/>
<path d="M952.5 73.5 L952.5 62.5" stroke="#840000" stroke-width="1.15" fill="none"/>
<path d="M949.19 68.01 L952.5 62.5 L955.81 68.01" stroke="#840000" stroke-width="1.15" fill="none"/>
<path d="M952.5 128.5 L952.5 139.5" stroke="#840000" stroke-width="1.15" fill="none"/>
<path d="M952.5 139.5 L952.5 144.5" stroke="#840000" stroke-width="1.15" fill="none"/>
<path d="M946.5 144.5 L957.5 144.5 L952.5 150.5Z" stroke="#840000" stroke-width="1.15" fill="none"/>
<path d="M974.5 106.5 L985.5 106.5" stroke="#840000" stroke-width="1.15" fill="none"/>
<path d="M941.5 109.5 L943.5 109.5 L943.5 102.5 L947.5 102.5 L947.5 109.5 L949.5 109.5 L949.5 102.5 L952.5 102.5 L952.5 109.5 L949.5 109.5" stroke="#840000" stroke-width="1" fill="none"/>
<circle cx="364.9" cy="530.5" r="2.6" fill="#f5f4ef" stroke="#840000" stroke-width="1"/>
<path d="M312.5 519.5 L329.5 519.5" stroke="#840000" stroke-width="1.15" fill="none"/>
<path d="M312.5 541.5 L329.5 541.5" stroke="#840000" stroke-width="1.15" fill="none"/>
<path d="M367.6 530.5 L378.5 530.5" stroke="#840000" stroke-width="1.15" fill="none"/>
<circle cx="359.9" cy="668.5" r="2.6" fill="#f5f4ef" stroke="#840000" stroke-width="1"/>
<path d="M306.5 657.5 L323.5 657.5" stroke="#840000" stroke-width="1.15" fill="none"/>
<path d="M306.5 679.5 L323.5 679.5" stroke="#840000" stroke-width="1.15" fill="none"/>
<path d="M362.6 668.5 L373.5 668.5" stroke="#840000" stroke-width="1.15" fill="none"/>
<circle cx="262.5" cy="632.9" r="2.6" fill="#f5f4ef" stroke="#840000" stroke-width="1"/>
<path d="M251.5 580.5 L251.5 597.5" stroke="#840000" stroke-width="1.15" fill="none"/>
<path d="M273.5 580.5 L273.5 597.5" stroke="#840000" stroke-width="1.15" fill="none"/>
<path d="M262.5 635.6 L262.5 646.5" stroke="#840000" stroke-width="1.15" fill="none"/>
<path d="M251.5 580.5 L251.5 569.5" stroke="#840000" stroke-width="1.15" fill="none"/>
<path d="M248.19 575.01 L251.5 569.5 L254.81 575.01" stroke="#840000" stroke-width="1.15" fill="none"/>
<path d="M47.5 558.5 L47.5 536.5" stroke="#840000" stroke-width="1.15" fill="none"/>
<path d="M47.5 536.5 L47.5 525.5" stroke="#840000" stroke-width="1.15" fill="none"/>
<path d="M44.19 531.01 L47.5 525.5 L50.81 531.01" stroke="#840000" stroke-width="1.15" fill="none"/>
<path d="M47.5 624.5 L47.5 646.5" stroke="#840000" stroke-width="1.15" fill="none"/>
<path d="M47.5 646.5 L47.5 652.5" stroke="#840000" stroke-width="1.15" fill="none"/>
<path d="M42.5 652.5 L53.5 652.5 L47.5 657.5Z" stroke="#840000" stroke-width="1.15" fill="none"/>
<path d="M42.5 729.5 L42.5 742.5" stroke="#840000" stroke-width="1.15" fill="none"/>
<path d="M42.5 749.5 L42.5 762.5" stroke="#840000" stroke-width="1.15" fill="none"/>
<path d="M33.7 742.5h17.6M33.7 749.5h17.6" stroke="#840000" stroke-width="2" stroke-linecap="round" fill="none"/>
<path d="M42.5 729.5 L42.5 718.5" stroke="#840000" stroke-width="1.15" fill="none"/>
<path d="M39.19 724.01 L42.5 718.5 L45.81 724.01" stroke="#840000" stroke-width="1.15" fill="none"/>
<path d="M42.5 762.5 L42.5 767.5" stroke="#840000" stroke-width="1.15" fill="none"/>
<path d="M36.5 767.5 L47.5 767.5 L42.5 773.5Z" stroke="#840000" stroke-width="1.15" fill="none"/>
<path d="M97.5 729.5 L97.5 742.5" stroke="#840000" stroke-width="1.15" fill="none"/>
<path d="M97.5 749.5 L97.5 762.5" stroke="#840000" stroke-width="1.15" fill="none"/>
<path d="M88.7 742.5h17.6M88.7 749.5h17.6" stroke="#840000" stroke-width="2" stroke-linecap="round" fill="none"/>
<path d="M97.5 729.5 L97.5 718.5" stroke="#840000" stroke-width="1.15" fill="none"/>
<path d="M94.19 724.01 L97.5 718.5 L100.81 724.01" stroke="#840000" stroke-width="1.15" fill="none"/>
<path d="M97.5 762.5 L97.5 767.5" stroke="#840000" stroke-width="1.15" fill="none"/>
<path d="M91.5 767.5 L102.5 767.5 L97.5 773.5Z" stroke="#840000" stroke-width="1.15" fill="none"/>
<path d="M158.5 729.5 L158.5 742.5" stroke="#840000" stroke-width="1.15" fill="none"/>
<path d="M158.5 749.5 L158.5 762.5" stroke="#840000" stroke-width="1.15" fill="none"/>
<path d="M149.7 742.5h17.6M149.7 749.5h17.6" stroke="#840000" stroke-width="2" stroke-linecap="round" fill="none"/>
<path d="M158.5 729.5 L158.5 718.5" stroke="#840000" stroke-width="1.15" fill="none"/>
<path d="M155.19 724.01 L158.5 718.5 L161.81 724.01" stroke="#840000" stroke-width="1.15" fill="none"/>
<path d="M158.5 762.5 L158.5 767.5" stroke="#840000" stroke-width="1.15" fill="none"/>
<path d="M152.5 767.5 L163.5 767.5 L158.5 773.5Z" stroke="#840000" stroke-width="1.15" fill="none"/>
<path d="M213.5 729.5 L213.5 742.5" stroke="#840000" stroke-width="1.15" fill="none"/>
<path d="M213.5 749.5 L213.5 762.5" stroke="#840000" stroke-width="1.15" fill="none"/>
<path d="M204.7 742.5h17.6M204.7 749.5h17.6" stroke="#840000" stroke-width="2" stroke-linecap="round" fill="none"/>
<path d="M213.5 729.5 L213.5 718.5" stroke="#840000" stroke-width="1.15" fill="none"/>
<path d="M210.19 724.01 L213.5 718.5 L216.81 724.01" stroke="#840000" stroke-width="1.15" fill="none"/>
<path d="M213.5 762.5 L213.5 767.5" stroke="#840000" stroke-width="1.15" fill="none"/>
<path d="M207.5 767.5 L218.5 767.5 L213.5 773.5Z" stroke="#840000" stroke-width="1.15" fill="none"/>
<path d="M268.5 729.5 L268.5 742.5" stroke="#840000" stroke-width="1.15" fill="none"/>
<path d="M268.5 749.5 L268.5 762.5" stroke="#840000" stroke-width="1.15" fill="none"/>
<path d="M259.7 742.5h17.6M259.7 749.5h17.6" stroke="#840000" stroke-width="2" stroke-linecap="round" fill="none"/>
<path d="M268.5 729.5 L268.5 718.5" stroke="#840000" stroke-width="1.15" fill="none"/>
<path d="M265.19 724.01 L268.5 718.5 L271.81 724.01" stroke="#840000" stroke-width="1.15" fill="none"/>
<path d="M268.5 762.5 L268.5 767.5" stroke="#840000" stroke-width="1.15" fill="none"/>
<path d="M262.5 767.5 L273.5 767.5 L268.5 773.5Z" stroke="#840000" stroke-width="1.15" fill="none"/>
<path d="M709.5 497.5 L709.5 508.5" stroke="#840000" stroke-width="1.15" fill="none"/>
<path d="M709.5 530.5 L709.5 541.5" stroke="#840000" stroke-width="1.15" fill="none"/>
<circle cx="709.5" cy="510.99" r="2.2" fill="none" stroke="#840000" stroke-width="1"/>
<circle cx="709.5" cy="528.63" r="2.2" fill="none" stroke="#840000" stroke-width="1"/>
<path d="M715.5 508.5 L715.5 530.5" stroke="#840000" stroke-width="1.15" fill="none"/>
<path d="M715.5 519.5 L722.5 519.5" stroke="#840000" stroke-width="1.15" fill="none"/>
<path d="M709.5 541.5 L709.5 547.5" stroke="#840000" stroke-width="1.15" fill="none"/>
<path d="M703.5 547.5 L715.5 547.5 L709.5 552.5Z" stroke="#840000" stroke-width="1.15" fill="none"/>
<path d="M709.5 624.5 L709.5 635.5" stroke="#840000" stroke-width="1.15" fill="none"/>
<path d="M709.5 657.5 L709.5 668.5" stroke="#840000" stroke-width="1.15" fill="none"/>
<circle cx="709.5" cy="637.8" r="2.2" fill="none" stroke="#840000" stroke-width="1"/>
<circle cx="709.5" cy="655.45" r="2.2" fill="none" stroke="#840000" stroke-width="1"/>
<path d="M715.5 635.5 L715.5 657.5" stroke="#840000" stroke-width="1.15" fill="none"/>
<path d="M715.5 646.5 L722.5 646.5" stroke="#840000" stroke-width="1.15" fill="none"/>
<path d="M709.5 624.5 L709.5 613.5" stroke="#840000" stroke-width="1.15" fill="none"/>
<path d="M706.19 619.01 L709.5 613.5 L712.81 619.01" stroke="#840000" stroke-width="1.15" fill="none"/>
<path d="M709.5 690.5 L709.5 696.5" stroke="#840000" stroke-width="1.15" fill="none"/>
<path d="M709.5 718.5 L709.5 723.5" stroke="#840000" stroke-width="1.15" fill="none"/>
<path d="M709.5 762.5 L709.5 767.5" stroke="#840000" stroke-width="1.15" fill="none"/>
<path d="M703.5 767.5 L715.5 767.5 L709.5 773.5Z" stroke="#840000" stroke-width="1.15" fill="none"/>
<path d="M1095.5 679.5 L1095.5 685.5" stroke="#840000" stroke-width="1.15" fill="none"/>
<path d="M1095.5 707.5 L1095.5 712.5" stroke="#840000" stroke-width="1.15" fill="none"/>
<path d="M1095.5 718.5 L1095.5 751.5" stroke="#840000" stroke-width="1.15" fill="none"/>
<path d="M1089.5 729.5 L1100.5 729.5 L1095.5 740.5Z" stroke="#840000" stroke-width="1.15" fill="none"/>
<path d="M1089.5 740.5 L1100.5 740.5" stroke="#840000" stroke-width="1.15" fill="none"/>
<path d="M1088.9 733.9 L1081.2 726.2" stroke="#840000" stroke-width="0.9" fill="none"/>
<path d="M1084.6 726.5 L1081.2 726.2 L1081.5 729.6" stroke="#840000" stroke-width="0.9" fill="none"/>
<path d="M1088.9 739.4 L1081.2 731.7" stroke="#840000" stroke-width="0.9" fill="none"/>
<path d="M1084.6 732 L1081.2 731.7 L1081.5 735.1" stroke="#840000" stroke-width="0.9" fill="none"/>
<path d="M1095.5 751.5 L1095.5 756.5" stroke="#840000" stroke-width="1.15" fill="none"/>
<path d="M1089.5 756.5 L1100.5 756.5 L1095.5 762.5Z" stroke="#840000" stroke-width="1.15" fill="none"/>
<path d="M846.5 696 L902 696 L907.5 701.5 L902 707 L846.5 707Z" stroke="#840000" stroke-width="1.15" fill="none"/>
<path d="M930.5 701.5 L930.5 707.5" stroke="#840000" stroke-width="1.15" fill="none"/>
<path d="M924.5 707.5 L935.5 707.5 L930.5 712.5Z" stroke="#840000" stroke-width="1.15" fill="none"/>
<path d="M847.5 729 L902 729 L907.5 734.5 L902 740 L847.5 740Z" stroke="#840000" stroke-width="1.15" fill="none"/>
<path d="M848.5 751 L902 751 L907.5 756.5 L902 762 L848.5 762Z" stroke="#840000" stroke-width="1.15" fill="none"/>
<path d="M847.5 773 L902 773 L907.5 778.5 L902 784 L847.5 784Z" stroke="#840000" stroke-width="1.15" fill="none"/>
<path d="M846.5 796 L897 796 L902.5 801.5 L897 807 L846.5 807Z" stroke="#840000" stroke-width="1.15" fill="none"/>
<path d="M1034.5 801.5 L1034.5 789.5" stroke="#840000" stroke-width="1.15" fill="none"/>
<path d="M1031.19 795.01 L1034.5 789.5 L1037.81 795.01" stroke="#840000" stroke-width="1.15" fill="none"/>
</g>
<g stroke="#009600" stroke-width="1" fill="none" stroke-linejoin="miter" stroke-linecap="square">
<path d="M75.5 128.5 L130.5 128.5"/>
<path d="M86.5 128.5 L86.5 481.5 L1106.5 481.5 L1106.5 514.5"/>
<path d="M130.5 161.5 L97.5 161.5 L97.5 470.5 L1095.5 470.5"/>
<path d="M75.5 183.5 L108.5 183.5 L108.5 459.5 L1073.5 459.5 L1073.5 514.5"/>
<path d="M108.5 216.5 L130.5 216.5"/>
<path d="M75.5 227.5 L130.5 227.5"/>
<path d="M130.5 260.5 L119.5 260.5 L119.5 448.5 L963.5 448.5 L963.5 514.5"/>
<path d="M75.5 293.5 L130.5 293.5"/>
<path d="M42.5 304.5 L130.5 304.5"/>
<path d="M42.5 392.5 L130.5 392.5"/>
<path d="M571.5 238.5 L571.5 227.5"/>
<path d="M847.5 249.5 L847.5 238.5"/>
<path d="M262.5 128.5 L262.5 12.5 L1018.5 12.5 L1018.5 514.5"/>
<path d="M825.5 12.5 L825.5 205.5"/>
<path d="M549.5 12.5 L549.5 183.5"/>
<path d="M262.5 139.5 L268.5 139.5 L268.5 23.5 L1007.5 23.5 L1007.5 514.5"/>
<path d="M814.5 23.5 L814.5 205.5"/>
<path d="M538.5 23.5 L538.5 183.5"/>
<path d="M262.5 150.5 L273.5 150.5 L273.5 34.5 L803.5 34.5 L803.5 205.5"/>
<path d="M527.5 34.5 L527.5 183.5"/>
<path d="M262.5 161.5 L279.5 161.5 L279.5 45.5 L792.5 45.5 L792.5 205.5"/>
<path d="M516.5 45.5 L516.5 183.5"/>
<path d="M262.5 172.5 L284.5 172.5 L284.5 56.5 L781.5 56.5 L781.5 205.5"/>
<path d="M505.5 56.5 L505.5 183.5"/>
<path d="M262.5 183.5 L290.5 183.5 L290.5 67.5 L770.5 67.5 L770.5 205.5"/>
<path d="M494.5 67.5 L494.5 183.5"/>
<path d="M262.5 194.5 L295.5 194.5 L295.5 78.5 L759.5 78.5 L759.5 205.5"/>
<path d="M483.5 78.5 L483.5 183.5"/>
<path d="M262.5 205.5 L301.5 205.5 L301.5 89.5 L748.5 89.5 L748.5 205.5"/>
<path d="M472.5 89.5 L472.5 183.5"/>
<path d="M262.5 216.5 L306.5 216.5 L306.5 100.5 L737.5 100.5 L737.5 205.5"/>
<path d="M461.5 100.5 L461.5 183.5"/>
<path d="M262.5 227.5 L312.5 227.5 L312.5 111.5 L726.5 111.5 L726.5 205.5"/>
<path d="M450.5 111.5 L450.5 183.5"/>
<path d="M262.5 238.5 L318.5 238.5 L318.5 122.5 L715.5 122.5 L715.5 205.5"/>
<path d="M439.5 122.5 L439.5 183.5"/>
<path d="M262.5 249.5 L323.5 249.5 L323.5 133.5 L703.5 133.5 L703.5 205.5"/>
<path d="M428.5 133.5 L428.5 183.5"/>
<path d="M262.5 260.5 L329.5 260.5 L329.5 144.5 L692.5 144.5 L692.5 205.5"/>
<path d="M417.5 144.5 L417.5 183.5"/>
<path d="M262.5 271.5 L334.5 271.5 L334.5 155.5 L406.5 155.5 L406.5 183.5"/>
<path d="M262.5 282.5 L340.5 282.5 L340.5 166.5 L1040.5 166.5 L1040.5 514.5"/>
<path d="M395.5 166.5 L395.5 183.5"/>
<path d="M907.5 166.5 L907.5 188.5"/>
<path d="M262.5 293.5 L345.5 293.5"/>
<path d="M450.5 293.5 L450.5 304.5 L345.5 304.5 L345.5 177.5 L1051.5 177.5 L1051.5 514.5"/>
<path d="M885.5 177.5 L885.5 188.5"/>
<path d="M262.5 315.5 L941.5 315.5 L941.5 514.5"/>
<path d="M549.5 293.5 L549.5 315.5"/>
<path d="M825.5 293.5 L825.5 315.5"/>
<path d="M262.5 326.5 L930.5 326.5 L930.5 514.5"/>
<path d="M538.5 293.5 L538.5 326.5"/>
<path d="M814.5 293.5 L814.5 326.5"/>
<path d="M262.5 337.5 L919.5 337.5 L919.5 514.5"/>
<path d="M527.5 293.5 L527.5 337.5"/>
<path d="M803.5 293.5 L803.5 337.5"/>
<path d="M262.5 348.5 L907.5 348.5 L907.5 514.5"/>
<path d="M516.5 293.5 L516.5 348.5"/>
<path d="M792.5 293.5 L792.5 348.5"/>
<path d="M262.5 359.5 L896.5 359.5 L896.5 514.5"/>
<path d="M505.5 293.5 L505.5 359.5"/>
<path d="M781.5 293.5 L781.5 359.5"/>
<path d="M262.5 370.5 L885.5 370.5 L885.5 514.5"/>
<path d="M494.5 293.5 L494.5 370.5"/>
<path d="M770.5 293.5 L770.5 370.5"/>
<path d="M262.5 381.5 L874.5 381.5 L874.5 514.5"/>
<path d="M483.5 293.5 L483.5 381.5"/>
<path d="M759.5 293.5 L759.5 381.5"/>
<path d="M262.5 392.5 L863.5 392.5 L863.5 514.5"/>
<path d="M472.5 293.5 L472.5 392.5"/>
<path d="M748.5 293.5 L748.5 392.5"/>
<path d="M417.5 293.5 L417.5 668.5 L373.5 668.5"/>
<path d="M428.5 293.5 L428.5 530.5"/>
<path d="M378.5 530.5 L599.5 530.5 L599.5 205.5 L637.5 205.5"/>
<path d="M648.5 205.5 L648.5 188.5 L863.5 188.5 L863.5 255.5 L896.5 255.5"/>
<path d="M985.5 106.5 L1095.5 106.5 L1095.5 514.5"/>
<path d="M1095.5 508.5 L1161.5 508.5 L1161.5 646.5 L1106.5 646.5"/>
<path d="M273.5 448.5 L273.5 580.5"/>
<path d="M273.5 519.5 L312.5 519.5"/>
<path d="M235.5 470.5 L235.5 657.5 L306.5 657.5"/>
<path d="M235.5 541.5 L312.5 541.5"/>
<path d="M262.5 646.5 L262.5 679.5 L306.5 679.5"/>
<path d="M709.5 481.5 L709.5 497.5"/>
<path d="M709.5 668.5 L709.5 690.5"/>
<path d="M709.5 674.5 L941.5 674.5 L941.5 646.5"/>
<path d="M709.5 723.5 L709.5 762.5"/>
<path d="M985.5 646.5 L985.5 734.5 L907.5 734.5"/>
<path d="M985.5 674.5 L1095.5 674.5 L1095.5 679.5"/>
<path d="M1095.5 712.5 L1095.5 718.5"/>
<path d="M907.5 701.5 L930.5 701.5"/>
<path d="M907.5 756.5 L1007.5 756.5 L1007.5 646.5"/>
<path d="M907.5 778.5 L1018.5 778.5 L1018.5 646.5"/>
<path d="M902.5 801.5 L1034.5 801.5"/>
</g>
<g fill="#009600">
<circle cx="86.5" cy="128.5" r="2.1"/>
<circle cx="108.5" cy="216.5" r="2.1"/>
<circle cx="825.5" cy="12.5" r="2.1"/>
<circle cx="549.5" cy="12.5" r="2.1"/>
<circle cx="814.5" cy="23.5" r="2.1"/>
<circle cx="538.5" cy="23.5" r="2.1"/>
<circle cx="527.5" cy="34.5" r="2.1"/>
<circle cx="516.5" cy="45.5" r="2.1"/>
<circle cx="505.5" cy="56.5" r="2.1"/>
<circle cx="494.5" cy="67.5" r="2.1"/>
<circle cx="483.5" cy="78.5" r="2.1"/>
<circle cx="472.5" cy="89.5" r="2.1"/>
<circle cx="461.5" cy="100.5" r="2.1"/>
<circle cx="450.5" cy="111.5" r="2.1"/>
<circle cx="439.5" cy="122.5" r="2.1"/>
<circle cx="428.5" cy="133.5" r="2.1"/>
<circle cx="417.5" cy="144.5" r="2.1"/>
<circle cx="395.5" cy="166.5" r="2.1"/>
<circle cx="907.5" cy="166.5" r="2.1"/>
<circle cx="345.5" cy="293.5" r="2.1"/>
<circle cx="885.5" cy="177.5" r="2.1"/>
<circle cx="549.5" cy="315.5" r="2.1"/>
<circle cx="825.5" cy="315.5" r="2.1"/>
<circle cx="538.5" cy="326.5" r="2.1"/>
<circle cx="814.5" cy="326.5" r="2.1"/>
<circle cx="527.5" cy="337.5" r="2.1"/>
<circle cx="803.5" cy="337.5" r="2.1"/>
<circle cx="516.5" cy="348.5" r="2.1"/>
<circle cx="792.5" cy="348.5" r="2.1"/>
<circle cx="505.5" cy="359.5" r="2.1"/>
<circle cx="781.5" cy="359.5" r="2.1"/>
<circle cx="494.5" cy="370.5" r="2.1"/>
<circle cx="770.5" cy="370.5" r="2.1"/>
<circle cx="483.5" cy="381.5" r="2.1"/>
<circle cx="759.5" cy="381.5" r="2.1"/>
<circle cx="472.5" cy="392.5" r="2.1"/>
<circle cx="748.5" cy="392.5" r="2.1"/>
<circle cx="428.5" cy="530.5" r="2.1"/>
<circle cx="1095.5" cy="470.5" r="2.1"/>
<circle cx="1095.5" cy="508.5" r="2.1"/>
<circle cx="273.5" cy="448.5" r="2.1"/>
<circle cx="273.5" cy="519.5" r="2.1"/>
<circle cx="235.5" cy="470.5" r="2.1"/>
<circle cx="235.5" cy="541.5" r="2.1"/>
<circle cx="709.5" cy="481.5" r="2.1"/>
<circle cx="709.5" cy="674.5" r="2.1"/>
<circle cx="985.5" cy="674.5" r="2.1"/>
</g>
<g opacity="0.999">
<text transform="translate(141.5,123.9)" y="3.4" text-anchor="middle" fill="#a90000" stroke="#a90000" textLength="10.07" lengthAdjust="spacingAndGlyphs" style="font-size:8.7px;stroke-width:0.45px">40</text>
<text transform="translate(158.7,128.5)" y="2.6" text-anchor="start" fill="#006464" stroke="#006464" textLength="15.2" lengthAdjust="spacingAndGlyphs" style="font-size:8.7px;stroke-width:0.45px">RES</text>
<path transform="translate(158.7,128.5)" d="M0 -5.09H14.6" stroke="#006464" stroke-width="0.8" fill="none"/>
<text transform="translate(141.5,156.9)" y="3.4" text-anchor="middle" fill="#a90000" stroke="#a90000" textLength="10.07" lengthAdjust="spacingAndGlyphs" style="font-size:8.7px;stroke-width:0.45px">37</text>
<text transform="translate(158.7,161.5)" y="2.6" text-anchor="start" fill="#006464" stroke="#006464" textLength="10.07" lengthAdjust="spacingAndGlyphs" style="font-size:8.7px;stroke-width:0.45px">ϕ0</text>
<text transform="translate(141.5,167.9)" y="3.4" text-anchor="middle" fill="#a90000" stroke="#a90000" textLength="4.93" lengthAdjust="spacingAndGlyphs" style="font-size:8.7px;stroke-width:0.45px">3</text>
<text transform="translate(158.7,172.5)" y="2.6" text-anchor="start" fill="#006464" stroke="#006464" textLength="10.07" lengthAdjust="spacingAndGlyphs" style="font-size:8.7px;stroke-width:0.45px">ϕ1</text>
<text transform="translate(141.5,178.9)" y="3.4" text-anchor="middle" fill="#a90000" stroke="#a90000" textLength="10.07" lengthAdjust="spacingAndGlyphs" style="font-size:8.7px;stroke-width:0.45px">39</text>
<text transform="translate(158.7,183.5)" y="2.6" text-anchor="start" fill="#006464" stroke="#006464" textLength="10.07" lengthAdjust="spacingAndGlyphs" style="font-size:8.7px;stroke-width:0.45px">ϕ2</text>
<text transform="translate(141.5,211.9)" y="3.4" text-anchor="middle" fill="#a90000" stroke="#a90000" textLength="4.93" lengthAdjust="spacingAndGlyphs" style="font-size:8.7px;stroke-width:0.45px">4</text>
<text transform="translate(158.7,216.5)" y="2.6" text-anchor="start" fill="#006464" stroke="#006464" textLength="12.89" lengthAdjust="spacingAndGlyphs" style="font-size:8.7px;stroke-width:0.45px">IRQ</text>
<path transform="translate(158.7,216.5)" d="M0 -5.09H12.29" stroke="#006464" stroke-width="0.8" fill="none"/>
<text transform="translate(141.5,222.9)" y="3.4" text-anchor="middle" fill="#a90000" stroke="#a90000" textLength="4.93" lengthAdjust="spacingAndGlyphs" style="font-size:8.7px;stroke-width:0.45px">6</text>
<text transform="translate(158.7,227.5)" y="2.6" text-anchor="start" fill="#006464" stroke="#006464" textLength="13.41" lengthAdjust="spacingAndGlyphs" style="font-size:8.7px;stroke-width:0.45px">NMI</text>
<path transform="translate(158.7,227.5)" d="M0 -5.09H12.81" stroke="#006464" stroke-width="0.8" fill="none"/>
<text transform="translate(141.5,255.9)" y="3.4" text-anchor="middle" fill="#a90000" stroke="#a90000" textLength="10.07" lengthAdjust="spacingAndGlyphs" style="font-size:8.7px;stroke-width:0.45px">34</text>
<text transform="translate(158.7,260.5)" y="2.6" text-anchor="start" fill="#006464" stroke="#006464" textLength="17" lengthAdjust="spacingAndGlyphs" style="font-size:8.7px;stroke-width:0.45px">R/W</text>
<path transform="translate(158.7,260.5)" d="M11.04 -5.09H16.4" stroke="#006464" stroke-width="0.8" fill="none"/>
<text transform="translate(141.5,288.9)" y="3.4" text-anchor="middle" fill="#a90000" stroke="#a90000" textLength="4.93" lengthAdjust="spacingAndGlyphs" style="font-size:8.7px;stroke-width:0.45px">2</text>
<text transform="translate(158.7,293.5)" y="2.6" text-anchor="start" fill="#006464" stroke="#006464" textLength="14.95" lengthAdjust="spacingAndGlyphs" style="font-size:8.7px;stroke-width:0.45px">RDY</text>
<text transform="translate(141.5,299.9)" y="3.4" text-anchor="middle" fill="#a90000" stroke="#a90000" textLength="10.07" lengthAdjust="spacingAndGlyphs" style="font-size:8.7px;stroke-width:0.45px">36</text>
<text transform="translate(158.7,304.5)" y="2.6" text-anchor="start" fill="#006464" stroke="#006464" textLength="10.07" lengthAdjust="spacingAndGlyphs" style="font-size:8.7px;stroke-width:0.45px">BE</text>
<text transform="translate(141.5,332.9)" y="3.4" text-anchor="middle" fill="#a90000" stroke="#a90000" textLength="4.93" lengthAdjust="spacingAndGlyphs" style="font-size:8.7px;stroke-width:0.45px">7</text>
<text transform="translate(158.7,337.5)" y="2.6" text-anchor="start" fill="#006464" stroke="#006464" textLength="20.34" lengthAdjust="spacingAndGlyphs" style="font-size:8.7px;stroke-width:0.45px">SYNC</text>
<text transform="translate(141.5,343.9)" y="3.4" text-anchor="middle" fill="#a90000" stroke="#a90000" textLength="4.93" lengthAdjust="spacingAndGlyphs" style="font-size:8.7px;stroke-width:0.45px">1</text>
<text transform="translate(158.7,348.5)" y="2.6" text-anchor="start" fill="#006464" stroke="#006464" textLength="9.81" lengthAdjust="spacingAndGlyphs" style="font-size:8.7px;stroke-width:0.45px">VP</text>
<path transform="translate(158.7,348.5)" d="M0 -5.09H9.21" stroke="#006464" stroke-width="0.8" fill="none"/>
<text transform="translate(141.5,354.9)" y="3.4" text-anchor="middle" fill="#a90000" stroke="#a90000" textLength="4.93" lengthAdjust="spacingAndGlyphs" style="font-size:8.7px;stroke-width:0.45px">5</text>
<text transform="translate(158.7,359.5)" y="2.6" text-anchor="start" fill="#006464" stroke="#006464" textLength="10.32" lengthAdjust="spacingAndGlyphs" style="font-size:8.7px;stroke-width:0.45px">ML</text>
<path transform="translate(158.7,359.5)" d="M0 -5.09H9.72" stroke="#006464" stroke-width="0.8" fill="none"/>
<text transform="translate(141.5,387.9)" y="3.4" text-anchor="middle" fill="#a90000" stroke="#a90000" textLength="10.07" lengthAdjust="spacingAndGlyphs" style="font-size:8.7px;stroke-width:0.45px">38</text>
<text transform="translate(158.7,392.5)" y="2.6" text-anchor="start" fill="#006464" stroke="#006464" textLength="10.58" lengthAdjust="spacingAndGlyphs" style="font-size:8.7px;stroke-width:0.45px">SO</text>
<path transform="translate(158.7,392.5)" d="M0 -5.09H9.98" stroke="#006464" stroke-width="0.8" fill="none"/>
<text transform="translate(251.5,123.9)" y="3.4" text-anchor="middle" fill="#a90000" stroke="#a90000" textLength="4.93" lengthAdjust="spacingAndGlyphs" style="font-size:8.7px;stroke-width:0.45px">9</text>
<text transform="translate(234.9,128.5)" y="2.6" text-anchor="end" fill="#006464" stroke="#006464" textLength="9.55" lengthAdjust="spacingAndGlyphs" style="font-size:8.7px;stroke-width:0.45px">A0</text>
<text transform="translate(251.5,134.9)" y="3.4" text-anchor="middle" fill="#a90000" stroke="#a90000" textLength="10.07" lengthAdjust="spacingAndGlyphs" style="font-size:8.7px;stroke-width:0.45px">10</text>
<text transform="translate(234.9,139.5)" y="2.6" text-anchor="end" fill="#006464" stroke="#006464" textLength="9.55" lengthAdjust="spacingAndGlyphs" style="font-size:8.7px;stroke-width:0.45px">A1</text>
<text transform="translate(251.5,145.9)" y="3.4" text-anchor="middle" fill="#a90000" stroke="#a90000" textLength="10.07" lengthAdjust="spacingAndGlyphs" style="font-size:8.7px;stroke-width:0.45px">11</text>
<text transform="translate(234.9,150.5)" y="2.6" text-anchor="end" fill="#006464" stroke="#006464" textLength="9.55" lengthAdjust="spacingAndGlyphs" style="font-size:8.7px;stroke-width:0.45px">A2</text>
<text transform="translate(251.5,156.9)" y="3.4" text-anchor="middle" fill="#a90000" stroke="#a90000" textLength="10.07" lengthAdjust="spacingAndGlyphs" style="font-size:8.7px;stroke-width:0.45px">12</text>
<text transform="translate(234.9,161.5)" y="2.6" text-anchor="end" fill="#006464" stroke="#006464" textLength="9.55" lengthAdjust="spacingAndGlyphs" style="font-size:8.7px;stroke-width:0.45px">A3</text>
<text transform="translate(251.5,167.9)" y="3.4" text-anchor="middle" fill="#a90000" stroke="#a90000" textLength="10.07" lengthAdjust="spacingAndGlyphs" style="font-size:8.7px;stroke-width:0.45px">13</text>
<text transform="translate(234.9,172.5)" y="2.6" text-anchor="end" fill="#006464" stroke="#006464" textLength="9.55" lengthAdjust="spacingAndGlyphs" style="font-size:8.7px;stroke-width:0.45px">A4</text>
<text transform="translate(251.5,178.9)" y="3.4" text-anchor="middle" fill="#a90000" stroke="#a90000" textLength="10.07" lengthAdjust="spacingAndGlyphs" style="font-size:8.7px;stroke-width:0.45px">14</text>
<text transform="translate(234.9,183.5)" y="2.6" text-anchor="end" fill="#006464" stroke="#006464" textLength="9.55" lengthAdjust="spacingAndGlyphs" style="font-size:8.7px;stroke-width:0.45px">A5</text>
<text transform="translate(251.5,189.9)" y="3.4" text-anchor="middle" fill="#a90000" stroke="#a90000" textLength="10.07" lengthAdjust="spacingAndGlyphs" style="font-size:8.7px;stroke-width:0.45px">15</text>
<text transform="translate(234.9,194.5)" y="2.6" text-anchor="end" fill="#006464" stroke="#006464" textLength="9.55" lengthAdjust="spacingAndGlyphs" style="font-size:8.7px;stroke-width:0.45px">A6</text>
<text transform="translate(251.5,200.9)" y="3.4" text-anchor="middle" fill="#a90000" stroke="#a90000" textLength="10.07" lengthAdjust="spacingAndGlyphs" style="font-size:8.7px;stroke-width:0.45px">16</text>
<text transform="translate(234.9,205.5)" y="2.6" text-anchor="end" fill="#006464" stroke="#006464" textLength="9.55" lengthAdjust="spacingAndGlyphs" style="font-size:8.7px;stroke-width:0.45px">A7</text>
<text transform="translate(251.5,211.9)" y="3.4" text-anchor="middle" fill="#a90000" stroke="#a90000" textLength="10.07" lengthAdjust="spacingAndGlyphs" style="font-size:8.7px;stroke-width:0.45px">17</text>
<text transform="translate(234.9,216.5)" y="2.6" text-anchor="end" fill="#006464" stroke="#006464" textLength="9.55" lengthAdjust="spacingAndGlyphs" style="font-size:8.7px;stroke-width:0.45px">A8</text>
<text transform="translate(251.5,222.9)" y="3.4" text-anchor="middle" fill="#a90000" stroke="#a90000" textLength="10.07" lengthAdjust="spacingAndGlyphs" style="font-size:8.7px;stroke-width:0.45px">18</text>
<text transform="translate(234.9,227.5)" y="2.6" text-anchor="end" fill="#006464" stroke="#006464" textLength="9.55" lengthAdjust="spacingAndGlyphs" style="font-size:8.7px;stroke-width:0.45px">A9</text>
<text transform="translate(251.5,233.9)" y="3.4" text-anchor="middle" fill="#a90000" stroke="#a90000" textLength="10.07" lengthAdjust="spacingAndGlyphs" style="font-size:8.7px;stroke-width:0.45px">19</text>
<text transform="translate(234.9,238.5)" y="2.6" text-anchor="end" fill="#006464" stroke="#006464" textLength="14.69" lengthAdjust="spacingAndGlyphs" style="font-size:8.7px;stroke-width:0.45px">A10</text>
<text transform="translate(251.5,244.9)" y="3.4" text-anchor="middle" fill="#a90000" stroke="#a90000" textLength="10.07" lengthAdjust="spacingAndGlyphs" style="font-size:8.7px;stroke-width:0.45px">20</text>
<text transform="translate(234.9,249.5)" y="2.6" text-anchor="end" fill="#006464" stroke="#006464" textLength="14.69" lengthAdjust="spacingAndGlyphs" style="font-size:8.7px;stroke-width:0.45px">A11</text>
<text transform="translate(251.5,255.9)" y="3.4" text-anchor="middle" fill="#a90000" stroke="#a90000" textLength="10.07" lengthAdjust="spacingAndGlyphs" style="font-size:8.7px;stroke-width:0.45px">22</text>
<text transform="translate(234.9,260.5)" y="2.6" text-anchor="end" fill="#006464" stroke="#006464" textLength="14.69" lengthAdjust="spacingAndGlyphs" style="font-size:8.7px;stroke-width:0.45px">A12</text>
<text transform="translate(251.5,266.9)" y="3.4" text-anchor="middle" fill="#a90000" stroke="#a90000" textLength="10.07" lengthAdjust="spacingAndGlyphs" style="font-size:8.7px;stroke-width:0.45px">23</text>
<text transform="translate(234.9,271.5)" y="2.6" text-anchor="end" fill="#006464" stroke="#006464" textLength="14.69" lengthAdjust="spacingAndGlyphs" style="font-size:8.7px;stroke-width:0.45px">A13</text>
<text transform="translate(251.5,277.9)" y="3.4" text-anchor="middle" fill="#a90000" stroke="#a90000" textLength="10.07" lengthAdjust="spacingAndGlyphs" style="font-size:8.7px;stroke-width:0.45px">24</text>
<text transform="translate(234.9,282.5)" y="2.6" text-anchor="end" fill="#006464" stroke="#006464" textLength="14.69" lengthAdjust="spacingAndGlyphs" style="font-size:8.7px;stroke-width:0.45px">A14</text>
<text transform="translate(251.5,288.9)" y="3.4" text-anchor="middle" fill="#a90000" stroke="#a90000" textLength="10.07" lengthAdjust="spacingAndGlyphs" style="font-size:8.7px;stroke-width:0.45px">25</text>
<text transform="translate(234.9,293.5)" y="2.6" text-anchor="end" fill="#006464" stroke="#006464" textLength="14.69" lengthAdjust="spacingAndGlyphs" style="font-size:8.7px;stroke-width:0.45px">A15</text>
<text transform="translate(251.5,310.9)" y="3.4" text-anchor="middle" fill="#a90000" stroke="#a90000" textLength="10.07" lengthAdjust="spacingAndGlyphs" style="font-size:8.7px;stroke-width:0.45px">33</text>
<text transform="translate(234.9,315.5)" y="2.6" text-anchor="end" fill="#006464" stroke="#006464" textLength="10.07" lengthAdjust="spacingAndGlyphs" style="font-size:8.7px;stroke-width:0.45px">D0</text>
<text transform="translate(251.5,321.9)" y="3.4" text-anchor="middle" fill="#a90000" stroke="#a90000" textLength="10.07" lengthAdjust="spacingAndGlyphs" style="font-size:8.7px;stroke-width:0.45px">32</text>
<text transform="translate(234.9,326.5)" y="2.6" text-anchor="end" fill="#006464" stroke="#006464" textLength="10.07" lengthAdjust="spacingAndGlyphs" style="font-size:8.7px;stroke-width:0.45px">D1</text>
<text transform="translate(251.5,332.9)" y="3.4" text-anchor="middle" fill="#a90000" stroke="#a90000" textLength="10.07" lengthAdjust="spacingAndGlyphs" style="font-size:8.7px;stroke-width:0.45px">31</text>
<text transform="translate(234.9,337.5)" y="2.6" text-anchor="end" fill="#006464" stroke="#006464" textLength="10.07" lengthAdjust="spacingAndGlyphs" style="font-size:8.7px;stroke-width:0.45px">D2</text>
<text transform="translate(251.5,343.9)" y="3.4" text-anchor="middle" fill="#a90000" stroke="#a90000" textLength="10.07" lengthAdjust="spacingAndGlyphs" style="font-size:8.7px;stroke-width:0.45px">30</text>
<text transform="translate(234.9,348.5)" y="2.6" text-anchor="end" fill="#006464" stroke="#006464" textLength="10.07" lengthAdjust="spacingAndGlyphs" style="font-size:8.7px;stroke-width:0.45px">D3</text>
<text transform="translate(251.5,354.9)" y="3.4" text-anchor="middle" fill="#a90000" stroke="#a90000" textLength="10.07" lengthAdjust="spacingAndGlyphs" style="font-size:8.7px;stroke-width:0.45px">29</text>
<text transform="translate(234.9,359.5)" y="2.6" text-anchor="end" fill="#006464" stroke="#006464" textLength="10.07" lengthAdjust="spacingAndGlyphs" style="font-size:8.7px;stroke-width:0.45px">D4</text>
<text transform="translate(251.5,365.9)" y="3.4" text-anchor="middle" fill="#a90000" stroke="#a90000" textLength="10.07" lengthAdjust="spacingAndGlyphs" style="font-size:8.7px;stroke-width:0.45px">28</text>
<text transform="translate(234.9,370.5)" y="2.6" text-anchor="end" fill="#006464" stroke="#006464" textLength="10.07" lengthAdjust="spacingAndGlyphs" style="font-size:8.7px;stroke-width:0.45px">D5</text>
<text transform="translate(251.5,376.9)" y="3.4" text-anchor="middle" fill="#a90000" stroke="#a90000" textLength="10.07" lengthAdjust="spacingAndGlyphs" style="font-size:8.7px;stroke-width:0.45px">27</text>
<text transform="translate(234.9,381.5)" y="2.6" text-anchor="end" fill="#006464" stroke="#006464" textLength="10.07" lengthAdjust="spacingAndGlyphs" style="font-size:8.7px;stroke-width:0.45px">D6</text>
<text transform="translate(251.5,387.9)" y="3.4" text-anchor="middle" fill="#a90000" stroke="#a90000" textLength="10.07" lengthAdjust="spacingAndGlyphs" style="font-size:8.7px;stroke-width:0.45px">26</text>
<text transform="translate(234.9,392.5)" y="2.6" text-anchor="end" fill="#006464" stroke="#006464" textLength="10.07" lengthAdjust="spacingAndGlyphs" style="font-size:8.7px;stroke-width:0.45px">D7</text>
<text transform="translate(191.9,100.5) rotate(-90)" y="3.4" text-anchor="middle" fill="#a90000" stroke="#a90000" textLength="4.93" lengthAdjust="spacingAndGlyphs" style="font-size:8.7px;stroke-width:0.45px">8</text>
<text transform="translate(196.5,118) rotate(-90)" y="2.6" text-anchor="end" fill="#006464" stroke="#006464" textLength="14.69" lengthAdjust="spacingAndGlyphs" style="font-size:8.7px;stroke-width:0.45px">VDD</text>
<text transform="translate(196.5,67.71)" y="3" text-anchor="middle" fill="#006464" stroke="#006464" textLength="15.2" lengthAdjust="spacingAndGlyphs">VCC</text>
<text transform="translate(191.9,420.5) rotate(-90)" y="3.4" text-anchor="middle" fill="#a90000" stroke="#a90000" textLength="10.07" lengthAdjust="spacingAndGlyphs" style="font-size:8.7px;stroke-width:0.45px">21</text>
<text transform="translate(196.5,403) rotate(-90)" y="2.6" text-anchor="start" fill="#006464" stroke="#006464" textLength="14.69" lengthAdjust="spacingAndGlyphs" style="font-size:8.7px;stroke-width:0.45px">VSS</text>
<text transform="translate(196.5,453.69)" y="3" text-anchor="middle" fill="#006464" stroke="#006464" textLength="15.46" lengthAdjust="spacingAndGlyphs">GND</text>
<text transform="translate(207,89.7)" y="3" text-anchor="start" fill="#006464" stroke="#006464" textLength="10.58" lengthAdjust="spacingAndGlyphs">U1</text>
<text transform="translate(207,100.7)" y="3" text-anchor="start" fill="#006464" stroke="#006464" textLength="46.78" lengthAdjust="spacingAndGlyphs" font-style="italic">W65C02SxP</text>
<text transform="translate(58.5,100.6)" y="3" text-anchor="middle" fill="#006464" stroke="#006464" textLength="10.32" lengthAdjust="spacingAndGlyphs">R1</text>
<text transform="translate(58.5,111.6)" y="3" text-anchor="middle" fill="#006464" stroke="#006464" textLength="14.43" lengthAdjust="spacingAndGlyphs">4k7</text>
<text transform="translate(25.1,128.2)" y="3" text-anchor="end" fill="#006464" stroke="#006464" textLength="15.2" lengthAdjust="spacingAndGlyphs">VCC</text>
<text transform="translate(58.5,155.6)" y="3" text-anchor="middle" fill="#006464" stroke="#006464" textLength="10.32" lengthAdjust="spacingAndGlyphs">R2</text>
<text transform="translate(58.5,166.6)" y="3" text-anchor="middle" fill="#006464" stroke="#006464" textLength="14.43" lengthAdjust="spacingAndGlyphs">4k7</text>
<text transform="translate(25.1,183.2)" y="3" text-anchor="end" fill="#006464" stroke="#006464" textLength="15.2" lengthAdjust="spacingAndGlyphs">VCC</text>
<text transform="translate(58.5,199.6)" y="3" text-anchor="middle" fill="#006464" stroke="#006464" textLength="10.32" lengthAdjust="spacingAndGlyphs">R3</text>
<text transform="translate(58.5,210.6)" y="3" text-anchor="middle" fill="#006464" stroke="#006464" textLength="14.43" lengthAdjust="spacingAndGlyphs">4k7</text>
<text transform="translate(25.1,227.2)" y="3" text-anchor="end" fill="#006464" stroke="#006464" textLength="15.2" lengthAdjust="spacingAndGlyphs">VCC</text>
<text transform="translate(58.5,265.6)" y="3" text-anchor="middle" fill="#006464" stroke="#006464" textLength="10.32" lengthAdjust="spacingAndGlyphs">R4</text>
<text transform="translate(58.5,276.6)" y="3" text-anchor="middle" fill="#006464" stroke="#006464" textLength="14.43" lengthAdjust="spacingAndGlyphs">4k7</text>
<text transform="translate(25.1,293.2)" y="3" text-anchor="end" fill="#006464" stroke="#006464" textLength="15.2" lengthAdjust="spacingAndGlyphs">VCC</text>
<text transform="translate(25.1,304.2)" y="3" text-anchor="end" fill="#006464" stroke="#006464" textLength="15.2" lengthAdjust="spacingAndGlyphs">VCC</text>
<text transform="translate(25.1,392.2)" y="3" text-anchor="end" fill="#006464" stroke="#006464" textLength="15.2" lengthAdjust="spacingAndGlyphs">VCC</text>
<text transform="translate(544.9,189) rotate(-90)" y="3.4" text-anchor="middle" fill="#a90000" stroke="#a90000" textLength="10.07" lengthAdjust="spacingAndGlyphs" style="font-size:8.7px;stroke-width:0.45px">10</text>
<text transform="translate(549.5,197.7) rotate(-90)" y="2.6" text-anchor="end" fill="#006464" stroke="#006464" textLength="9.55" lengthAdjust="spacingAndGlyphs" style="font-size:8.7px;stroke-width:0.45px">A0</text>
<text transform="translate(533.9,189) rotate(-90)" y="3.4" text-anchor="middle" fill="#a90000" stroke="#a90000" textLength="4.93" lengthAdjust="spacingAndGlyphs" style="font-size:8.7px;stroke-width:0.45px">9</text>
<text transform="translate(538.5,197.7) rotate(-90)" y="2.6" text-anchor="end" fill="#006464" stroke="#006464" textLength="9.55" lengthAdjust="spacingAndGlyphs" style="font-size:8.7px;stroke-width:0.45px">A1</text>
<text transform="translate(522.9,189) rotate(-90)" y="3.4" text-anchor="middle" fill="#a90000" stroke="#a90000" textLength="4.93" lengthAdjust="spacingAndGlyphs" style="font-size:8.7px;stroke-width:0.45px">8</text>
<text transform="translate(527.5,197.7) rotate(-90)" y="2.6" text-anchor="end" fill="#006464" stroke="#006464" textLength="9.55" lengthAdjust="spacingAndGlyphs" style="font-size:8.7px;stroke-width:0.45px">A2</text>
<text transform="translate(511.9,189) rotate(-90)" y="3.4" text-anchor="middle" fill="#a90000" stroke="#a90000" textLength="4.93" lengthAdjust="spacingAndGlyphs" style="font-size:8.7px;stroke-width:0.45px">7</text>
<text transform="translate(516.5,197.7) rotate(-90)" y="2.6" text-anchor="end" fill="#006464" stroke="#006464" textLength="9.55" lengthAdjust="spacingAndGlyphs" style="font-size:8.7px;stroke-width:0.45px">A3</text>
<text transform="translate(500.9,189) rotate(-90)" y="3.4" text-anchor="middle" fill="#a90000" stroke="#a90000" textLength="4.93" lengthAdjust="spacingAndGlyphs" style="font-size:8.7px;stroke-width:0.45px">6</text>
<text transform="translate(505.5,197.7) rotate(-90)" y="2.6" text-anchor="end" fill="#006464" stroke="#006464" textLength="9.55" lengthAdjust="spacingAndGlyphs" style="font-size:8.7px;stroke-width:0.45px">A4</text>
<text transform="translate(489.9,189) rotate(-90)" y="3.4" text-anchor="middle" fill="#a90000" stroke="#a90000" textLength="4.93" lengthAdjust="spacingAndGlyphs" style="font-size:8.7px;stroke-width:0.45px">5</text>
<text transform="translate(494.5,197.7) rotate(-90)" y="2.6" text-anchor="end" fill="#006464" stroke="#006464" textLength="9.55" lengthAdjust="spacingAndGlyphs" style="font-size:8.7px;stroke-width:0.45px">A5</text>
<text transform="translate(478.9,189) rotate(-90)" y="3.4" text-anchor="middle" fill="#a90000" stroke="#a90000" textLength="4.93" lengthAdjust="spacingAndGlyphs" style="font-size:8.7px;stroke-width:0.45px">4</text>
<text transform="translate(483.5,197.7) rotate(-90)" y="2.6" text-anchor="end" fill="#006464" stroke="#006464" textLength="9.55" lengthAdjust="spacingAndGlyphs" style="font-size:8.7px;stroke-width:0.45px">A6</text>
<text transform="translate(467.9,189) rotate(-90)" y="3.4" text-anchor="middle" fill="#a90000" stroke="#a90000" textLength="4.93" lengthAdjust="spacingAndGlyphs" style="font-size:8.7px;stroke-width:0.45px">3</text>
<text transform="translate(472.5,197.7) rotate(-90)" y="2.6" text-anchor="end" fill="#006464" stroke="#006464" textLength="9.55" lengthAdjust="spacingAndGlyphs" style="font-size:8.7px;stroke-width:0.45px">A7</text>
<text transform="translate(456.9,189) rotate(-90)" y="3.4" text-anchor="middle" fill="#a90000" stroke="#a90000" textLength="10.07" lengthAdjust="spacingAndGlyphs" style="font-size:8.7px;stroke-width:0.45px">25</text>
<text transform="translate(461.5,197.7) rotate(-90)" y="2.6" text-anchor="end" fill="#006464" stroke="#006464" textLength="9.55" lengthAdjust="spacingAndGlyphs" style="font-size:8.7px;stroke-width:0.45px">A8</text>
<text transform="translate(445.9,189) rotate(-90)" y="3.4" text-anchor="middle" fill="#a90000" stroke="#a90000" textLength="10.07" lengthAdjust="spacingAndGlyphs" style="font-size:8.7px;stroke-width:0.45px">24</text>
<text transform="translate(450.5,197.7) rotate(-90)" y="2.6" text-anchor="end" fill="#006464" stroke="#006464" textLength="9.55" lengthAdjust="spacingAndGlyphs" style="font-size:8.7px;stroke-width:0.45px">A9</text>
<text transform="translate(434.9,189) rotate(-90)" y="3.4" text-anchor="middle" fill="#a90000" stroke="#a90000" textLength="10.07" lengthAdjust="spacingAndGlyphs" style="font-size:8.7px;stroke-width:0.45px">21</text>
<text transform="translate(439.5,197.7) rotate(-90)" y="2.6" text-anchor="end" fill="#006464" stroke="#006464" textLength="14.69" lengthAdjust="spacingAndGlyphs" style="font-size:8.7px;stroke-width:0.45px">A10</text>
<text transform="translate(423.9,189) rotate(-90)" y="3.4" text-anchor="middle" fill="#a90000" stroke="#a90000" textLength="10.07" lengthAdjust="spacingAndGlyphs" style="font-size:8.7px;stroke-width:0.45px">23</text>
<text transform="translate(428.5,197.7) rotate(-90)" y="2.6" text-anchor="end" fill="#006464" stroke="#006464" textLength="14.69" lengthAdjust="spacingAndGlyphs" style="font-size:8.7px;stroke-width:0.45px">A11</text>
<text transform="translate(412.9,189) rotate(-90)" y="3.4" text-anchor="middle" fill="#a90000" stroke="#a90000" textLength="4.93" lengthAdjust="spacingAndGlyphs" style="font-size:8.7px;stroke-width:0.45px">2</text>
<text transform="translate(417.5,197.7) rotate(-90)" y="2.6" text-anchor="end" fill="#006464" stroke="#006464" textLength="14.69" lengthAdjust="spacingAndGlyphs" style="font-size:8.7px;stroke-width:0.45px">A12</text>
<text transform="translate(401.9,189) rotate(-90)" y="3.4" text-anchor="middle" fill="#a90000" stroke="#a90000" textLength="10.07" lengthAdjust="spacingAndGlyphs" style="font-size:8.7px;stroke-width:0.45px">26</text>
<text transform="translate(406.5,197.7) rotate(-90)" y="2.6" text-anchor="end" fill="#006464" stroke="#006464" textLength="14.69" lengthAdjust="spacingAndGlyphs" style="font-size:8.7px;stroke-width:0.45px">A13</text>
<text transform="translate(390.9,189) rotate(-90)" y="3.4" text-anchor="middle" fill="#a90000" stroke="#a90000" textLength="4.93" lengthAdjust="spacingAndGlyphs" style="font-size:8.7px;stroke-width:0.45px">1</text>
<text transform="translate(395.5,197.7) rotate(-90)" y="2.6" text-anchor="end" fill="#006464" stroke="#006464" textLength="14.69" lengthAdjust="spacingAndGlyphs" style="font-size:8.7px;stroke-width:0.45px">A14</text>
<text transform="translate(544.9,288) rotate(-90)" y="3.4" text-anchor="middle" fill="#a90000" stroke="#a90000" textLength="10.07" lengthAdjust="spacingAndGlyphs" style="font-size:8.7px;stroke-width:0.45px">11</text>
<text transform="translate(549.5,279.3) rotate(-90)" y="2.6" text-anchor="start" fill="#006464" stroke="#006464" textLength="10.58" lengthAdjust="spacingAndGlyphs" style="font-size:8.7px;stroke-width:0.45px">Q0</text>
<text transform="translate(533.9,288) rotate(-90)" y="3.4" text-anchor="middle" fill="#a90000" stroke="#a90000" textLength="10.07" lengthAdjust="spacingAndGlyphs" style="font-size:8.7px;stroke-width:0.45px">12</text>
<text transform="translate(538.5,279.3) rotate(-90)" y="2.6" text-anchor="start" fill="#006464" stroke="#006464" textLength="10.58" lengthAdjust="spacingAndGlyphs" style="font-size:8.7px;stroke-width:0.45px">Q1</text>
<text transform="translate(522.9,288) rotate(-90)" y="3.4" text-anchor="middle" fill="#a90000" stroke="#a90000" textLength="10.07" lengthAdjust="spacingAndGlyphs" style="font-size:8.7px;stroke-width:0.45px">13</text>
<text transform="translate(527.5,279.3) rotate(-90)" y="2.6" text-anchor="start" fill="#006464" stroke="#006464" textLength="10.58" lengthAdjust="spacingAndGlyphs" style="font-size:8.7px;stroke-width:0.45px">Q2</text>
<text transform="translate(511.9,288) rotate(-90)" y="3.4" text-anchor="middle" fill="#a90000" stroke="#a90000" textLength="10.07" lengthAdjust="spacingAndGlyphs" style="font-size:8.7px;stroke-width:0.45px">15</text>
<text transform="translate(516.5,279.3) rotate(-90)" y="2.6" text-anchor="start" fill="#006464" stroke="#006464" textLength="10.58" lengthAdjust="spacingAndGlyphs" style="font-size:8.7px;stroke-width:0.45px">Q3</text>
<text transform="translate(500.9,288) rotate(-90)" y="3.4" text-anchor="middle" fill="#a90000" stroke="#a90000" textLength="10.07" lengthAdjust="spacingAndGlyphs" style="font-size:8.7px;stroke-width:0.45px">16</text>
<text transform="translate(505.5,279.3) rotate(-90)" y="2.6" text-anchor="start" fill="#006464" stroke="#006464" textLength="10.58" lengthAdjust="spacingAndGlyphs" style="font-size:8.7px;stroke-width:0.45px">Q4</text>
<text transform="translate(489.9,288) rotate(-90)" y="3.4" text-anchor="middle" fill="#a90000" stroke="#a90000" textLength="10.07" lengthAdjust="spacingAndGlyphs" style="font-size:8.7px;stroke-width:0.45px">17</text>
<text transform="translate(494.5,279.3) rotate(-90)" y="2.6" text-anchor="start" fill="#006464" stroke="#006464" textLength="10.58" lengthAdjust="spacingAndGlyphs" style="font-size:8.7px;stroke-width:0.45px">Q5</text>
<text transform="translate(478.9,288) rotate(-90)" y="3.4" text-anchor="middle" fill="#a90000" stroke="#a90000" textLength="10.07" lengthAdjust="spacingAndGlyphs" style="font-size:8.7px;stroke-width:0.45px">18</text>
<text transform="translate(483.5,279.3) rotate(-90)" y="2.6" text-anchor="start" fill="#006464" stroke="#006464" textLength="10.58" lengthAdjust="spacingAndGlyphs" style="font-size:8.7px;stroke-width:0.45px">Q6</text>
<text transform="translate(467.9,288) rotate(-90)" y="3.4" text-anchor="middle" fill="#a90000" stroke="#a90000" textLength="10.07" lengthAdjust="spacingAndGlyphs" style="font-size:8.7px;stroke-width:0.45px">19</text>
<text transform="translate(472.5,279.3) rotate(-90)" y="2.6" text-anchor="start" fill="#006464" stroke="#006464" textLength="10.58" lengthAdjust="spacingAndGlyphs" style="font-size:8.7px;stroke-width:0.45px">Q7</text>
<text transform="translate(445.9,288) rotate(-90)" y="3.4" text-anchor="middle" fill="#a90000" stroke="#a90000" textLength="10.07" lengthAdjust="spacingAndGlyphs" style="font-size:8.7px;stroke-width:0.45px">20</text>
<text transform="translate(450.5,279.3) rotate(-90)" y="2.6" text-anchor="start" fill="#006464" stroke="#006464" textLength="10.32" lengthAdjust="spacingAndGlyphs" style="font-size:8.7px;stroke-width:0.45px">CS</text>
<path transform="translate(450.5,279.3) rotate(-90)" d="M0 -5.09H9.72" stroke="#006464" stroke-width="0.8" fill="none"/>
<text transform="translate(423.9,288) rotate(-90)" y="3.4" text-anchor="middle" fill="#a90000" stroke="#a90000" textLength="10.07" lengthAdjust="spacingAndGlyphs" style="font-size:8.7px;stroke-width:0.45px">22</text>
<text transform="translate(428.5,279.3) rotate(-90)" y="2.6" text-anchor="start" fill="#006464" stroke="#006464" textLength="10.32" lengthAdjust="spacingAndGlyphs" style="font-size:8.7px;stroke-width:0.45px">OE</text>
<path transform="translate(428.5,279.3) rotate(-90)" d="M0 -5.09H9.72" stroke="#006464" stroke-width="0.8" fill="none"/>
<text transform="translate(412.9,288) rotate(-90)" y="3.4" text-anchor="middle" fill="#a90000" stroke="#a90000" textLength="10.07" lengthAdjust="spacingAndGlyphs" style="font-size:8.7px;stroke-width:0.45px">27</text>
<text transform="translate(417.5,279.3) rotate(-90)" y="2.6" text-anchor="start" fill="#006464" stroke="#006464" textLength="10.84" lengthAdjust="spacingAndGlyphs" style="font-size:8.7px;stroke-width:0.45px">WE</text>
<path transform="translate(417.5,279.3) rotate(-90)" d="M0 -5.09H10.24" stroke="#006464" stroke-width="0.8" fill="none"/>
<text transform="translate(379,233.9)" y="3.4" text-anchor="middle" fill="#a90000" stroke="#a90000" textLength="10.07" lengthAdjust="spacingAndGlyphs" style="font-size:8.7px;stroke-width:0.45px">14</text>
<text transform="translate(388.5,238.5)" y="2.6" text-anchor="start" fill="#006464" stroke="#006464" textLength="15.46" lengthAdjust="spacingAndGlyphs" style="font-size:8.7px;stroke-width:0.45px">GND</text>
<text transform="translate(373.5,260.71)" y="3" text-anchor="middle" fill="#006464" stroke="#006464" textLength="15.46" lengthAdjust="spacingAndGlyphs">GND</text>
<text transform="translate(566,233.9)" y="3.4" text-anchor="middle" fill="#a90000" stroke="#a90000" textLength="10.07" lengthAdjust="spacingAndGlyphs" style="font-size:8.7px;stroke-width:0.45px">28</text>
<text transform="translate(556.5,238.5)" y="2.6" text-anchor="end" fill="#006464" stroke="#006464" textLength="15.2" lengthAdjust="spacingAndGlyphs" style="font-size:8.7px;stroke-width:0.45px">VCC</text>
<text transform="translate(571.5,205.55)" y="3" text-anchor="middle" fill="#006464" stroke="#006464" textLength="15.2" lengthAdjust="spacingAndGlyphs">VCC</text>
<text transform="translate(472.4,238.4)" y="3" text-anchor="middle" fill="#006464" stroke="#006464" textLength="10.58" lengthAdjust="spacingAndGlyphs">U2</text>
<text transform="translate(472.4,249.6)" y="3" text-anchor="middle" fill="#006464" stroke="#006464" textLength="63.2" lengthAdjust="spacingAndGlyphs">CY62256-70PC</text>
<text transform="translate(820.9,211) rotate(-90)" y="3.4" text-anchor="middle" fill="#a90000" stroke="#a90000" textLength="10.07" lengthAdjust="spacingAndGlyphs" style="font-size:8.7px;stroke-width:0.45px">10</text>
<text transform="translate(825.5,219.7) rotate(-90)" y="2.6" text-anchor="end" fill="#006464" stroke="#006464" textLength="9.55" lengthAdjust="spacingAndGlyphs" style="font-size:8.7px;stroke-width:0.45px">A0</text>
<text transform="translate(809.9,211) rotate(-90)" y="3.4" text-anchor="middle" fill="#a90000" stroke="#a90000" textLength="4.93" lengthAdjust="spacingAndGlyphs" style="font-size:8.7px;stroke-width:0.45px">9</text>
<text transform="translate(814.5,219.7) rotate(-90)" y="2.6" text-anchor="end" fill="#006464" stroke="#006464" textLength="9.55" lengthAdjust="spacingAndGlyphs" style="font-size:8.7px;stroke-width:0.45px">A1</text>
<text transform="translate(798.9,211) rotate(-90)" y="3.4" text-anchor="middle" fill="#a90000" stroke="#a90000" textLength="4.93" lengthAdjust="spacingAndGlyphs" style="font-size:8.7px;stroke-width:0.45px">8</text>
<text transform="translate(803.5,219.7) rotate(-90)" y="2.6" text-anchor="end" fill="#006464" stroke="#006464" textLength="9.55" lengthAdjust="spacingAndGlyphs" style="font-size:8.7px;stroke-width:0.45px">A2</text>
<text transform="translate(787.9,211) rotate(-90)" y="3.4" text-anchor="middle" fill="#a90000" stroke="#a90000" textLength="4.93" lengthAdjust="spacingAndGlyphs" style="font-size:8.7px;stroke-width:0.45px">7</text>
<text transform="translate(792.5,219.7) rotate(-90)" y="2.6" text-anchor="end" fill="#006464" stroke="#006464" textLength="9.55" lengthAdjust="spacingAndGlyphs" style="font-size:8.7px;stroke-width:0.45px">A3</text>
<text transform="translate(776.9,211) rotate(-90)" y="3.4" text-anchor="middle" fill="#a90000" stroke="#a90000" textLength="4.93" lengthAdjust="spacingAndGlyphs" style="font-size:8.7px;stroke-width:0.45px">6</text>
<text transform="translate(781.5,219.7) rotate(-90)" y="2.6" text-anchor="end" fill="#006464" stroke="#006464" textLength="9.55" lengthAdjust="spacingAndGlyphs" style="font-size:8.7px;stroke-width:0.45px">A4</text>
<text transform="translate(765.9,211) rotate(-90)" y="3.4" text-anchor="middle" fill="#a90000" stroke="#a90000" textLength="4.93" lengthAdjust="spacingAndGlyphs" style="font-size:8.7px;stroke-width:0.45px">5</text>
<text transform="translate(770.5,219.7) rotate(-90)" y="2.6" text-anchor="end" fill="#006464" stroke="#006464" textLength="9.55" lengthAdjust="spacingAndGlyphs" style="font-size:8.7px;stroke-width:0.45px">A5</text>
<text transform="translate(754.9,211) rotate(-90)" y="3.4" text-anchor="middle" fill="#a90000" stroke="#a90000" textLength="4.93" lengthAdjust="spacingAndGlyphs" style="font-size:8.7px;stroke-width:0.45px">4</text>
<text transform="translate(759.5,219.7) rotate(-90)" y="2.6" text-anchor="end" fill="#006464" stroke="#006464" textLength="9.55" lengthAdjust="spacingAndGlyphs" style="font-size:8.7px;stroke-width:0.45px">A6</text>
<text transform="translate(743.9,211) rotate(-90)" y="3.4" text-anchor="middle" fill="#a90000" stroke="#a90000" textLength="4.93" lengthAdjust="spacingAndGlyphs" style="font-size:8.7px;stroke-width:0.45px">3</text>
<text transform="translate(748.5,219.7) rotate(-90)" y="2.6" text-anchor="end" fill="#006464" stroke="#006464" textLength="9.55" lengthAdjust="spacingAndGlyphs" style="font-size:8.7px;stroke-width:0.45px">A7</text>
<text transform="translate(732.9,211) rotate(-90)" y="3.4" text-anchor="middle" fill="#a90000" stroke="#a90000" textLength="10.07" lengthAdjust="spacingAndGlyphs" style="font-size:8.7px;stroke-width:0.45px">25</text>
<text transform="translate(737.5,219.7) rotate(-90)" y="2.6" text-anchor="end" fill="#006464" stroke="#006464" textLength="9.55" lengthAdjust="spacingAndGlyphs" style="font-size:8.7px;stroke-width:0.45px">A8</text>
<text transform="translate(721.9,211) rotate(-90)" y="3.4" text-anchor="middle" fill="#a90000" stroke="#a90000" textLength="10.07" lengthAdjust="spacingAndGlyphs" style="font-size:8.7px;stroke-width:0.45px">24</text>
<text transform="translate(726.5,219.7) rotate(-90)" y="2.6" text-anchor="end" fill="#006464" stroke="#006464" textLength="9.55" lengthAdjust="spacingAndGlyphs" style="font-size:8.7px;stroke-width:0.45px">A9</text>
<text transform="translate(710.9,211) rotate(-90)" y="3.4" text-anchor="middle" fill="#a90000" stroke="#a90000" textLength="10.07" lengthAdjust="spacingAndGlyphs" style="font-size:8.7px;stroke-width:0.45px">21</text>
<text transform="translate(715.5,219.7) rotate(-90)" y="2.6" text-anchor="end" fill="#006464" stroke="#006464" textLength="14.69" lengthAdjust="spacingAndGlyphs" style="font-size:8.7px;stroke-width:0.45px">A10</text>
<text transform="translate(698.9,211) rotate(-90)" y="3.4" text-anchor="middle" fill="#a90000" stroke="#a90000" textLength="10.07" lengthAdjust="spacingAndGlyphs" style="font-size:8.7px;stroke-width:0.45px">23</text>
<text transform="translate(703.5,219.7) rotate(-90)" y="2.6" text-anchor="end" fill="#006464" stroke="#006464" textLength="14.69" lengthAdjust="spacingAndGlyphs" style="font-size:8.7px;stroke-width:0.45px">A11</text>
<text transform="translate(687.9,211) rotate(-90)" y="3.4" text-anchor="middle" fill="#a90000" stroke="#a90000" textLength="4.93" lengthAdjust="spacingAndGlyphs" style="font-size:8.7px;stroke-width:0.45px">2</text>
<text transform="translate(692.5,219.7) rotate(-90)" y="2.6" text-anchor="end" fill="#006464" stroke="#006464" textLength="14.69" lengthAdjust="spacingAndGlyphs" style="font-size:8.7px;stroke-width:0.45px">A12</text>
<text transform="translate(820.9,288) rotate(-90)" y="3.4" text-anchor="middle" fill="#a90000" stroke="#a90000" textLength="10.07" lengthAdjust="spacingAndGlyphs" style="font-size:8.7px;stroke-width:0.45px">11</text>
<text transform="translate(825.5,279.3) rotate(-90)" y="2.6" text-anchor="start" fill="#006464" stroke="#006464" textLength="10.07" lengthAdjust="spacingAndGlyphs" style="font-size:8.7px;stroke-width:0.45px">D0</text>
<text transform="translate(809.9,288) rotate(-90)" y="3.4" text-anchor="middle" fill="#a90000" stroke="#a90000" textLength="10.07" lengthAdjust="spacingAndGlyphs" style="font-size:8.7px;stroke-width:0.45px">12</text>
<text transform="translate(814.5,279.3) rotate(-90)" y="2.6" text-anchor="start" fill="#006464" stroke="#006464" textLength="10.07" lengthAdjust="spacingAndGlyphs" style="font-size:8.7px;stroke-width:0.45px">D1</text>
<text transform="translate(798.9,288) rotate(-90)" y="3.4" text-anchor="middle" fill="#a90000" stroke="#a90000" textLength="10.07" lengthAdjust="spacingAndGlyphs" style="font-size:8.7px;stroke-width:0.45px">13</text>
<text transform="translate(803.5,279.3) rotate(-90)" y="2.6" text-anchor="start" fill="#006464" stroke="#006464" textLength="10.07" lengthAdjust="spacingAndGlyphs" style="font-size:8.7px;stroke-width:0.45px">D2</text>
<text transform="translate(787.9,288) rotate(-90)" y="3.4" text-anchor="middle" fill="#a90000" stroke="#a90000" textLength="10.07" lengthAdjust="spacingAndGlyphs" style="font-size:8.7px;stroke-width:0.45px">15</text>
<text transform="translate(792.5,279.3) rotate(-90)" y="2.6" text-anchor="start" fill="#006464" stroke="#006464" textLength="10.07" lengthAdjust="spacingAndGlyphs" style="font-size:8.7px;stroke-width:0.45px">D3</text>
<text transform="translate(776.9,288) rotate(-90)" y="3.4" text-anchor="middle" fill="#a90000" stroke="#a90000" textLength="10.07" lengthAdjust="spacingAndGlyphs" style="font-size:8.7px;stroke-width:0.45px">16</text>
<text transform="translate(781.5,279.3) rotate(-90)" y="2.6" text-anchor="start" fill="#006464" stroke="#006464" textLength="10.07" lengthAdjust="spacingAndGlyphs" style="font-size:8.7px;stroke-width:0.45px">D4</text>
<text transform="translate(765.9,288) rotate(-90)" y="3.4" text-anchor="middle" fill="#a90000" stroke="#a90000" textLength="10.07" lengthAdjust="spacingAndGlyphs" style="font-size:8.7px;stroke-width:0.45px">17</text>
<text transform="translate(770.5,279.3) rotate(-90)" y="2.6" text-anchor="start" fill="#006464" stroke="#006464" textLength="10.07" lengthAdjust="spacingAndGlyphs" style="font-size:8.7px;stroke-width:0.45px">D5</text>
<text transform="translate(754.9,288) rotate(-90)" y="3.4" text-anchor="middle" fill="#a90000" stroke="#a90000" textLength="10.07" lengthAdjust="spacingAndGlyphs" style="font-size:8.7px;stroke-width:0.45px">18</text>
<text transform="translate(759.5,279.3) rotate(-90)" y="2.6" text-anchor="start" fill="#006464" stroke="#006464" textLength="10.07" lengthAdjust="spacingAndGlyphs" style="font-size:8.7px;stroke-width:0.45px">D6</text>
<text transform="translate(743.9,288) rotate(-90)" y="3.4" text-anchor="middle" fill="#a90000" stroke="#a90000" textLength="10.07" lengthAdjust="spacingAndGlyphs" style="font-size:8.7px;stroke-width:0.45px">19</text>
<text transform="translate(748.5,279.3) rotate(-90)" y="2.6" text-anchor="start" fill="#006464" stroke="#006464" textLength="10.07" lengthAdjust="spacingAndGlyphs" style="font-size:8.7px;stroke-width:0.45px">D7</text>
<text transform="translate(665.9,211) rotate(-90)" y="3.4" text-anchor="middle" fill="#a90000" stroke="#a90000" textLength="10.07" lengthAdjust="spacingAndGlyphs" style="font-size:8.7px;stroke-width:0.45px">27</text>
<text transform="translate(670.5,219.7) rotate(-90)" y="2.6" text-anchor="end" fill="#006464" stroke="#006464" textLength="16.49" lengthAdjust="spacingAndGlyphs" style="font-size:8.7px;stroke-width:0.45px">PGM</text>
<path transform="translate(670.5,219.7) rotate(-90)" d="M-16.69 -5.09H-0.8" stroke="#006464" stroke-width="0.8" fill="none"/>
<text transform="translate(654.9,211) rotate(-90)" y="3.4" text-anchor="middle" fill="#a90000" stroke="#a90000" textLength="4.93" lengthAdjust="spacingAndGlyphs" style="font-size:8.7px;stroke-width:0.45px">1</text>
<text transform="translate(659.5,219.7) rotate(-90)" y="2.6" text-anchor="end" fill="#006464" stroke="#006464" textLength="15.2" lengthAdjust="spacingAndGlyphs" style="font-size:8.7px;stroke-width:0.45px">VPP</text>
<text transform="translate(643.9,211) rotate(-90)" y="3.4" text-anchor="middle" fill="#a90000" stroke="#a90000" textLength="10.07" lengthAdjust="spacingAndGlyphs" style="font-size:8.7px;stroke-width:0.45px">20</text>
<text transform="translate(648.5,219.7) rotate(-90)" y="2.6" text-anchor="end" fill="#006464" stroke="#006464" textLength="10.07" lengthAdjust="spacingAndGlyphs" style="font-size:8.7px;stroke-width:0.45px">CE</text>
<path transform="translate(648.5,219.7) rotate(-90)" d="M-10.27 -5.09H-0.8" stroke="#006464" stroke-width="0.8" fill="none"/>
<text transform="translate(632.9,211) rotate(-90)" y="3.4" text-anchor="middle" fill="#a90000" stroke="#a90000" textLength="10.07" lengthAdjust="spacingAndGlyphs" style="font-size:8.7px;stroke-width:0.45px">22</text>
<text transform="translate(637.5,219.7) rotate(-90)" y="2.6" text-anchor="end" fill="#006464" stroke="#006464" textLength="10.32" lengthAdjust="spacingAndGlyphs" style="font-size:8.7px;stroke-width:0.45px">OE</text>
<path transform="translate(637.5,219.7) rotate(-90)" d="M-10.52 -5.09H-0.8" stroke="#006464" stroke-width="0.8" fill="none"/>
<text transform="translate(670.5,183.5)" y="3" text-anchor="middle" fill="#006464" stroke="#006464" textLength="15.2" lengthAdjust="spacingAndGlyphs">VCC</text>
<text transform="translate(621,244.9)" y="3.4" text-anchor="middle" fill="#a90000" stroke="#a90000" textLength="10.07" lengthAdjust="spacingAndGlyphs" style="font-size:8.7px;stroke-width:0.45px">14</text>
<text transform="translate(630.5,249.5)" y="2.6" text-anchor="start" fill="#006464" stroke="#006464" textLength="15.46" lengthAdjust="spacingAndGlyphs" style="font-size:8.7px;stroke-width:0.45px">GND</text>
<text transform="translate(615.5,271.73)" y="3" text-anchor="middle" fill="#006464" stroke="#006464" textLength="15.46" lengthAdjust="spacingAndGlyphs">GND</text>
<text transform="translate(842,244.9)" y="3.4" text-anchor="middle" fill="#a90000" stroke="#a90000" textLength="10.07" lengthAdjust="spacingAndGlyphs" style="font-size:8.7px;stroke-width:0.45px">28</text>
<text transform="translate(832.5,249.5)" y="2.6" text-anchor="end" fill="#006464" stroke="#006464" textLength="15.2" lengthAdjust="spacingAndGlyphs" style="font-size:8.7px;stroke-width:0.45px">VCC</text>
<text transform="translate(847.5,216.58)" y="3" text-anchor="middle" fill="#006464" stroke="#006464" textLength="15.2" lengthAdjust="spacingAndGlyphs">VCC</text>
<text transform="translate(737,244)" y="3" text-anchor="middle" fill="#006464" stroke="#006464" textLength="10.58" lengthAdjust="spacingAndGlyphs">U3</text>
<text transform="translate(737,255)" y="3" text-anchor="middle" fill="#006464" stroke="#006464" textLength="25.73" lengthAdjust="spacingAndGlyphs">28C64</text>
<text transform="translate(936.9,525.5) rotate(-90)" y="3.4" text-anchor="middle" fill="#a90000" stroke="#a90000" textLength="10.07" lengthAdjust="spacingAndGlyphs" style="font-size:8.7px;stroke-width:0.45px">18</text>
<text transform="translate(941.5,542.1) rotate(-90)" y="2.6" text-anchor="end" fill="#006464" stroke="#006464" textLength="10.07" lengthAdjust="spacingAndGlyphs" style="font-size:8.7px;stroke-width:0.45px">D0</text>
<text transform="translate(925.9,525.5) rotate(-90)" y="3.4" text-anchor="middle" fill="#a90000" stroke="#a90000" textLength="10.07" lengthAdjust="spacingAndGlyphs" style="font-size:8.7px;stroke-width:0.45px">19</text>
<text transform="translate(930.5,542.1) rotate(-90)" y="2.6" text-anchor="end" fill="#006464" stroke="#006464" textLength="10.07" lengthAdjust="spacingAndGlyphs" style="font-size:8.7px;stroke-width:0.45px">D1</text>
<text transform="translate(914.9,525.5) rotate(-90)" y="3.4" text-anchor="middle" fill="#a90000" stroke="#a90000" textLength="10.07" lengthAdjust="spacingAndGlyphs" style="font-size:8.7px;stroke-width:0.45px">20</text>
<text transform="translate(919.5,542.1) rotate(-90)" y="2.6" text-anchor="end" fill="#006464" stroke="#006464" textLength="10.07" lengthAdjust="spacingAndGlyphs" style="font-size:8.7px;stroke-width:0.45px">D2</text>
<text transform="translate(902.9,525.5) rotate(-90)" y="3.4" text-anchor="middle" fill="#a90000" stroke="#a90000" textLength="10.07" lengthAdjust="spacingAndGlyphs" style="font-size:8.7px;stroke-width:0.45px">21</text>
<text transform="translate(907.5,542.1) rotate(-90)" y="2.6" text-anchor="end" fill="#006464" stroke="#006464" textLength="10.07" lengthAdjust="spacingAndGlyphs" style="font-size:8.7px;stroke-width:0.45px">D3</text>
<text transform="translate(891.9,525.5) rotate(-90)" y="3.4" text-anchor="middle" fill="#a90000" stroke="#a90000" textLength="10.07" lengthAdjust="spacingAndGlyphs" style="font-size:8.7px;stroke-width:0.45px">22</text>
<text transform="translate(896.5,542.1) rotate(-90)" y="2.6" text-anchor="end" fill="#006464" stroke="#006464" textLength="10.07" lengthAdjust="spacingAndGlyphs" style="font-size:8.7px;stroke-width:0.45px">D4</text>
<text transform="translate(880.9,525.5) rotate(-90)" y="3.4" text-anchor="middle" fill="#a90000" stroke="#a90000" textLength="10.07" lengthAdjust="spacingAndGlyphs" style="font-size:8.7px;stroke-width:0.45px">23</text>
<text transform="translate(885.5,542.1) rotate(-90)" y="2.6" text-anchor="end" fill="#006464" stroke="#006464" textLength="10.07" lengthAdjust="spacingAndGlyphs" style="font-size:8.7px;stroke-width:0.45px">D5</text>
<text transform="translate(869.9,525.5) rotate(-90)" y="3.4" text-anchor="middle" fill="#a90000" stroke="#a90000" textLength="10.07" lengthAdjust="spacingAndGlyphs" style="font-size:8.7px;stroke-width:0.45px">24</text>
<text transform="translate(874.5,542.1) rotate(-90)" y="2.6" text-anchor="end" fill="#006464" stroke="#006464" textLength="10.07" lengthAdjust="spacingAndGlyphs" style="font-size:8.7px;stroke-width:0.45px">D6</text>
<text transform="translate(858.9,525.5) rotate(-90)" y="3.4" text-anchor="middle" fill="#a90000" stroke="#a90000" textLength="10.07" lengthAdjust="spacingAndGlyphs" style="font-size:8.7px;stroke-width:0.45px">25</text>
<text transform="translate(863.5,542.1) rotate(-90)" y="2.6" text-anchor="end" fill="#006464" stroke="#006464" textLength="10.07" lengthAdjust="spacingAndGlyphs" style="font-size:8.7px;stroke-width:0.45px">D7</text>
<text transform="translate(958.9,525.5) rotate(-90)" y="3.4" text-anchor="middle" fill="#a90000" stroke="#a90000" textLength="10.07" lengthAdjust="spacingAndGlyphs" style="font-size:8.7px;stroke-width:0.45px">28</text>
<text transform="translate(963.5,542.1) rotate(-90)" y="2.6" text-anchor="end" fill="#006464" stroke="#006464" textLength="17" lengthAdjust="spacingAndGlyphs" style="font-size:8.7px;stroke-width:0.45px">R/W</text>
<path transform="translate(963.5,542.1) rotate(-90)" d="M-6.16 -5.09H-0.8" stroke="#006464" stroke-width="0.8" fill="none"/>
<text transform="translate(1002.9,525.5) rotate(-90)" y="3.4" text-anchor="middle" fill="#a90000" stroke="#a90000" textLength="10.07" lengthAdjust="spacingAndGlyphs" style="font-size:8.7px;stroke-width:0.45px">14</text>
<text transform="translate(1007.5,542.1) rotate(-90)" y="2.6" text-anchor="end" fill="#006464" stroke="#006464" textLength="15.46" lengthAdjust="spacingAndGlyphs" style="font-size:8.7px;stroke-width:0.45px">RS1</text>
<text transform="translate(1013.9,525.5) rotate(-90)" y="3.4" text-anchor="middle" fill="#a90000" stroke="#a90000" textLength="10.07" lengthAdjust="spacingAndGlyphs" style="font-size:8.7px;stroke-width:0.45px">13</text>
<text transform="translate(1018.5,542.1) rotate(-90)" y="2.6" text-anchor="end" fill="#006464" stroke="#006464" textLength="15.46" lengthAdjust="spacingAndGlyphs" style="font-size:8.7px;stroke-width:0.45px">RS0</text>
<text transform="translate(1035.9,525.5) rotate(-90)" y="3.4" text-anchor="middle" fill="#a90000" stroke="#a90000" textLength="4.93" lengthAdjust="spacingAndGlyphs" style="font-size:8.7px;stroke-width:0.45px">3</text>
<text transform="translate(1040.5,542.1) rotate(-90)" y="2.6" text-anchor="end" fill="#006464" stroke="#006464" textLength="15.46" lengthAdjust="spacingAndGlyphs" style="font-size:8.7px;stroke-width:0.45px">CS2</text>
<path transform="translate(1040.5,542.1) rotate(-90)" d="M-15.66 -5.09H-0.8" stroke="#006464" stroke-width="0.8" fill="none"/>
<text transform="translate(1046.9,525.5) rotate(-90)" y="3.4" text-anchor="middle" fill="#a90000" stroke="#a90000" textLength="4.93" lengthAdjust="spacingAndGlyphs" style="font-size:8.7px;stroke-width:0.45px">2</text>
<text transform="translate(1051.5,542.1) rotate(-90)" y="2.6" text-anchor="end" fill="#006464" stroke="#006464" textLength="15.46" lengthAdjust="spacingAndGlyphs" style="font-size:8.7px;stroke-width:0.45px">CS1</text>
<text transform="translate(1068.9,525.5) rotate(-90)" y="3.4" text-anchor="middle" fill="#a90000" stroke="#a90000" textLength="10.07" lengthAdjust="spacingAndGlyphs" style="font-size:8.7px;stroke-width:0.45px">26</text>
<text transform="translate(1073.5,542.1) rotate(-90)" y="2.6" text-anchor="end" fill="#006464" stroke="#006464" textLength="12.89" lengthAdjust="spacingAndGlyphs" style="font-size:8.7px;stroke-width:0.45px">IRQ</text>
<path transform="translate(1073.5,542.1) rotate(-90)" d="M-13.09 -5.09H-0.8" stroke="#006464" stroke-width="0.8" fill="none"/>
<text transform="translate(1090.9,525.5) rotate(-90)" y="3.4" text-anchor="middle" fill="#a90000" stroke="#a90000" textLength="10.07" lengthAdjust="spacingAndGlyphs" style="font-size:8.7px;stroke-width:0.45px">27</text>
<text transform="translate(1095.5,542.1) rotate(-90)" y="2.6" text-anchor="end" fill="#006464" stroke="#006464" textLength="10.07" lengthAdjust="spacingAndGlyphs" style="font-size:8.7px;stroke-width:0.45px">ϕ2</text>
<text transform="translate(1101.9,525.5) rotate(-90)" y="3.4" text-anchor="middle" fill="#a90000" stroke="#a90000" textLength="4.93" lengthAdjust="spacingAndGlyphs" style="font-size:8.7px;stroke-width:0.45px">4</text>
<text transform="translate(1106.5,542.1) rotate(-90)" y="2.6" text-anchor="end" fill="#006464" stroke="#006464" textLength="15.2" lengthAdjust="spacingAndGlyphs" style="font-size:8.7px;stroke-width:0.45px">RES</text>
<path transform="translate(1106.5,542.1) rotate(-90)" d="M-15.4 -5.09H-0.8" stroke="#006464" stroke-width="0.8" fill="none"/>
<text transform="translate(914.9,635.5) rotate(-90)" y="3.4" text-anchor="middle" fill="#a90000" stroke="#a90000" textLength="10.07" lengthAdjust="spacingAndGlyphs" style="font-size:8.7px;stroke-width:0.45px">16</text>
<text transform="translate(919.5,618.9) rotate(-90)" y="2.6" text-anchor="start" fill="#006464" stroke="#006464" textLength="15.46" lengthAdjust="spacingAndGlyphs" style="font-size:8.7px;stroke-width:0.45px">DCD</text>
<path transform="translate(919.5,618.9) rotate(-90)" d="M0 -5.09H14.86" stroke="#006464" stroke-width="0.8" fill="none"/>
<text transform="translate(936.9,635.5) rotate(-90)" y="3.4" text-anchor="middle" fill="#a90000" stroke="#a90000" textLength="10.07" lengthAdjust="spacingAndGlyphs" style="font-size:8.7px;stroke-width:0.45px">17</text>
<text transform="translate(941.5,618.9) rotate(-90)" y="2.6" text-anchor="start" fill="#006464" stroke="#006464" textLength="15.46" lengthAdjust="spacingAndGlyphs" style="font-size:8.7px;stroke-width:0.45px">DSR</text>
<path transform="translate(941.5,618.9) rotate(-90)" d="M0 -5.09H14.86" stroke="#006464" stroke-width="0.8" fill="none"/>
<text transform="translate(947.9,635.5) rotate(-90)" y="3.4" text-anchor="middle" fill="#a90000" stroke="#a90000" textLength="10.07" lengthAdjust="spacingAndGlyphs" style="font-size:8.7px;stroke-width:0.45px">11</text>
<text transform="translate(952.5,618.9) rotate(-90)" y="2.6" text-anchor="start" fill="#006464" stroke="#006464" textLength="14.43" lengthAdjust="spacingAndGlyphs" style="font-size:8.7px;stroke-width:0.45px">DTR</text>
<path transform="translate(952.5,618.9) rotate(-90)" d="M0 -5.09H13.83" stroke="#006464" stroke-width="0.8" fill="none"/>
<text transform="translate(969.9,635.5) rotate(-90)" y="3.4" text-anchor="middle" fill="#a90000" stroke="#a90000" textLength="4.93" lengthAdjust="spacingAndGlyphs" style="font-size:8.7px;stroke-width:0.45px">9</text>
<text transform="translate(974.5,618.9) rotate(-90)" y="2.6" text-anchor="start" fill="#006464" stroke="#006464" textLength="14.43" lengthAdjust="spacingAndGlyphs" style="font-size:8.7px;stroke-width:0.45px">CTS</text>
<path transform="translate(974.5,618.9) rotate(-90)" d="M0 -5.09H13.83" stroke="#006464" stroke-width="0.8" fill="none"/>
<text transform="translate(980.9,635.5) rotate(-90)" y="3.4" text-anchor="middle" fill="#a90000" stroke="#a90000" textLength="4.93" lengthAdjust="spacingAndGlyphs" style="font-size:8.7px;stroke-width:0.45px">8</text>
<text transform="translate(985.5,618.9) rotate(-90)" y="2.6" text-anchor="start" fill="#006464" stroke="#006464" textLength="14.43" lengthAdjust="spacingAndGlyphs" style="font-size:8.7px;stroke-width:0.45px">RTS</text>
<path transform="translate(985.5,618.9) rotate(-90)" d="M0 -5.09H13.83" stroke="#006464" stroke-width="0.8" fill="none"/>
<text transform="translate(1002.9,635.5) rotate(-90)" y="3.4" text-anchor="middle" fill="#a90000" stroke="#a90000" textLength="10.07" lengthAdjust="spacingAndGlyphs" style="font-size:8.7px;stroke-width:0.45px">12</text>
<text transform="translate(1007.5,618.9) rotate(-90)" y="2.6" text-anchor="start" fill="#006464" stroke="#006464" textLength="14.69" lengthAdjust="spacingAndGlyphs" style="font-size:8.7px;stroke-width:0.45px">RxD</text>
<text transform="translate(1013.9,635.5) rotate(-90)" y="3.4" text-anchor="middle" fill="#a90000" stroke="#a90000" textLength="10.07" lengthAdjust="spacingAndGlyphs" style="font-size:8.7px;stroke-width:0.45px">10</text>
<text transform="translate(1018.5,618.9) rotate(-90)" y="2.6" text-anchor="start" fill="#006464" stroke="#006464" textLength="13.41" lengthAdjust="spacingAndGlyphs" style="font-size:8.7px;stroke-width:0.45px">TxD</text>
<text transform="translate(1068.9,635.5) rotate(-90)" y="3.4" text-anchor="middle" fill="#a90000" stroke="#a90000" textLength="4.93" lengthAdjust="spacingAndGlyphs" style="font-size:8.7px;stroke-width:0.45px">5</text>
<text transform="translate(1073.5,618.9) rotate(-90)" y="2.6" text-anchor="start" fill="#006464" stroke="#006464" textLength="14.95" lengthAdjust="spacingAndGlyphs" style="font-size:8.7px;stroke-width:0.45px">RxC</text>
<text transform="translate(1090.9,635.5) rotate(-90)" y="3.4" text-anchor="middle" fill="#a90000" stroke="#a90000" textLength="4.93" lengthAdjust="spacingAndGlyphs" style="font-size:8.7px;stroke-width:0.45px">7</text>
<text transform="translate(1095.5,618.9) rotate(-90)" y="2.6" text-anchor="start" fill="#006464" stroke="#006464" textLength="23.16" lengthAdjust="spacingAndGlyphs" style="font-size:8.7px;stroke-width:0.45px">XTAL2</text>
<text transform="translate(1101.9,635.5) rotate(-90)" y="3.4" text-anchor="middle" fill="#a90000" stroke="#a90000" textLength="4.93" lengthAdjust="spacingAndGlyphs" style="font-size:8.7px;stroke-width:0.45px">6</text>
<text transform="translate(1106.5,618.9) rotate(-90)" y="2.6" text-anchor="start" fill="#006464" stroke="#006464" textLength="23.16" lengthAdjust="spacingAndGlyphs" style="font-size:8.7px;stroke-width:0.45px">XTAL1</text>
<text transform="translate(836.5,575.9)" y="3.4" text-anchor="middle" fill="#a90000" stroke="#a90000" textLength="4.93" lengthAdjust="spacingAndGlyphs" style="font-size:8.7px;stroke-width:0.45px">1</text>
<text transform="translate(853.1,580.5)" y="2.6" text-anchor="start" fill="#006464" stroke="#006464" textLength="14.69" lengthAdjust="spacingAndGlyphs" style="font-size:8.7px;stroke-width:0.45px">VSS</text>
<text transform="translate(825.5,602.56)" y="3" text-anchor="middle" fill="#006464" stroke="#006464" textLength="15.46" lengthAdjust="spacingAndGlyphs">GND</text>
<text transform="translate(1134.5,575.9)" y="3.4" text-anchor="middle" fill="#a90000" stroke="#a90000" textLength="10.07" lengthAdjust="spacingAndGlyphs" style="font-size:8.7px;stroke-width:0.45px">15</text>
<text transform="translate(1117.9,580.5)" y="2.6" text-anchor="end" fill="#006464" stroke="#006464" textLength="15.2" lengthAdjust="spacingAndGlyphs" style="font-size:8.7px;stroke-width:0.45px">VCC</text>
<text transform="translate(1145.5,558.43)" y="3" text-anchor="middle" fill="#006464" stroke="#006464" textLength="15.2" lengthAdjust="spacingAndGlyphs">VCC</text>
<text transform="translate(985,580.2)" y="3" text-anchor="middle" fill="#006464" stroke="#006464" textLength="10.58" lengthAdjust="spacingAndGlyphs">U4</text>
<text transform="translate(986,591.2)" y="3" text-anchor="middle" fill="#006464" stroke="#006464" textLength="47.03" lengthAdjust="spacingAndGlyphs" font-style="italic">W65C51NxP</text>
<text transform="translate(919.5,668.73)" y="3" text-anchor="middle" fill="#006464" stroke="#006464" textLength="15.46" lengthAdjust="spacingAndGlyphs">GND</text>
<text transform="translate(974.5,668.73)" y="3" text-anchor="middle" fill="#006464" stroke="#006464" textLength="15.46" lengthAdjust="spacingAndGlyphs">GND</text>
<text transform="translate(881.3,197.46) rotate(-90)" y="3.4" text-anchor="middle" fill="#a90000" stroke="#a90000" textLength="4.93" lengthAdjust="spacingAndGlyphs" style="font-size:8.7px;stroke-width:0.45px">2</text>
<text transform="translate(903.3,197.46) rotate(-90)" y="3.4" text-anchor="middle" fill="#a90000" stroke="#a90000" textLength="4.93" lengthAdjust="spacingAndGlyphs" style="font-size:8.7px;stroke-width:0.45px">1</text>
<text transform="translate(892.3,246.86) rotate(-90)" y="3.4" text-anchor="middle" fill="#a90000" stroke="#a90000" textLength="4.93" lengthAdjust="spacingAndGlyphs" style="font-size:8.7px;stroke-width:0.45px">3</text>
<text transform="translate(919.7,216.6)" y="3" text-anchor="start" fill="#006464" stroke="#006464" textLength="15.2" lengthAdjust="spacingAndGlyphs">U5A</text>
<text transform="translate(919.7,227.6)" y="3" text-anchor="start" fill="#006464" stroke="#006464" textLength="31.37" lengthAdjust="spacingAndGlyphs">74HC00</text>
<text transform="translate(947.9,79) rotate(-90)" y="3.4" text-anchor="middle" fill="#a90000" stroke="#a90000" textLength="10.07" lengthAdjust="spacingAndGlyphs" style="font-size:8.7px;stroke-width:0.45px">14</text>
<text transform="translate(952.5,88) rotate(-90)" y="2.6" text-anchor="end" fill="#006464" stroke="#006464" textLength="13.66" lengthAdjust="spacingAndGlyphs" style="font-size:8.7px;stroke-width:0.45px">Vcc</text>
<text transform="translate(952.5,51.16)" y="3" text-anchor="middle" fill="#006464" stroke="#006464" textLength="15.2" lengthAdjust="spacingAndGlyphs">VCC</text>
<text transform="translate(947.9,134) rotate(-90)" y="3.4" text-anchor="middle" fill="#a90000" stroke="#a90000" textLength="4.93" lengthAdjust="spacingAndGlyphs" style="font-size:8.7px;stroke-width:0.45px">7</text>
<text transform="translate(952.5,125) rotate(-90)" y="2.6" text-anchor="start" fill="#006464" stroke="#006464" textLength="15.46" lengthAdjust="spacingAndGlyphs" style="font-size:8.7px;stroke-width:0.45px">GND</text>
<text transform="translate(952.5,161.46)" y="3" text-anchor="middle" fill="#006464" stroke="#006464" textLength="15.46" lengthAdjust="spacingAndGlyphs">GND</text>
<text transform="translate(979.8,101.9)" y="3.4" text-anchor="middle" fill="#a90000" stroke="#a90000" textLength="4.93" lengthAdjust="spacingAndGlyphs" style="font-size:8.7px;stroke-width:0.45px">8</text>
<text transform="translate(972,106.5)" y="2.6" text-anchor="end" fill="#006464" stroke="#006464" textLength="15.2" lengthAdjust="spacingAndGlyphs" style="font-size:8.7px;stroke-width:0.45px">OUT</text>
<text transform="translate(923.5,100.7)" y="3" text-anchor="end" fill="#006464" stroke="#006464" textLength="10.07" lengthAdjust="spacingAndGlyphs">X1</text>
<text transform="translate(923.5,111.8)" y="3" text-anchor="end" fill="#006464" stroke="#006464" textLength="66.54" lengthAdjust="spacingAndGlyphs">ACO-1.8432MHz</text>
<text transform="translate(320.78,515.8)" y="3.4" text-anchor="middle" fill="#a90000" stroke="#a90000" textLength="4.93" lengthAdjust="spacingAndGlyphs" style="font-size:8.7px;stroke-width:0.45px">4</text>
<text transform="translate(320.78,537.8)" y="3.4" text-anchor="middle" fill="#a90000" stroke="#a90000" textLength="4.93" lengthAdjust="spacingAndGlyphs" style="font-size:8.7px;stroke-width:0.45px">5</text>
<text transform="translate(370.18,526.8)" y="3.4" text-anchor="middle" fill="#a90000" stroke="#a90000" textLength="4.93" lengthAdjust="spacingAndGlyphs" style="font-size:8.7px;stroke-width:0.45px">6</text>
<text transform="translate(345.5,492.2)" y="3" text-anchor="middle" fill="#006464" stroke="#006464" textLength="15.97" lengthAdjust="spacingAndGlyphs">U5B</text>
<text transform="translate(345.5,503.2)" y="3" text-anchor="middle" fill="#006464" stroke="#006464" textLength="31.37" lengthAdjust="spacingAndGlyphs">74HC00</text>
<text transform="translate(315.26,653.8)" y="3.4" text-anchor="middle" fill="#a90000" stroke="#a90000" textLength="4.93" lengthAdjust="spacingAndGlyphs" style="font-size:8.7px;stroke-width:0.45px">9</text>
<text transform="translate(315.26,675.8)" y="3.4" text-anchor="middle" fill="#a90000" stroke="#a90000" textLength="10.07" lengthAdjust="spacingAndGlyphs" style="font-size:8.7px;stroke-width:0.45px">10</text>
<text transform="translate(364.66,664.8)" y="3.4" text-anchor="middle" fill="#a90000" stroke="#a90000" textLength="4.93" lengthAdjust="spacingAndGlyphs" style="font-size:8.7px;stroke-width:0.45px">8</text>
<text transform="translate(340.1,630.2)" y="3" text-anchor="middle" fill="#006464" stroke="#006464" textLength="15.97" lengthAdjust="spacingAndGlyphs">U5C</text>
<text transform="translate(340.1,641.2)" y="3" text-anchor="middle" fill="#006464" stroke="#006464" textLength="31.37" lengthAdjust="spacingAndGlyphs">74HC00</text>
<text transform="translate(247.3,588.94) rotate(-90)" y="3.4" text-anchor="middle" fill="#a90000" stroke="#a90000" textLength="10.07" lengthAdjust="spacingAndGlyphs" style="font-size:8.7px;stroke-width:0.45px">13</text>
<text transform="translate(269.3,588.94) rotate(-90)" y="3.4" text-anchor="middle" fill="#a90000" stroke="#a90000" textLength="10.07" lengthAdjust="spacingAndGlyphs" style="font-size:8.7px;stroke-width:0.45px">12</text>
<text transform="translate(258.3,638.34) rotate(-90)" y="3.4" text-anchor="middle" fill="#a90000" stroke="#a90000" textLength="10.07" lengthAdjust="spacingAndGlyphs" style="font-size:8.7px;stroke-width:0.45px">11</text>
<text transform="translate(285.8,608.2)" y="3" text-anchor="start" fill="#006464" stroke="#006464" textLength="15.72" lengthAdjust="spacingAndGlyphs">U5D</text>
<text transform="translate(285.8,619.2)" y="3" text-anchor="start" fill="#006464" stroke="#006464" textLength="31.37" lengthAdjust="spacingAndGlyphs">74HC00</text>
<text transform="translate(251.5,558.43)" y="3" text-anchor="middle" fill="#006464" stroke="#006464" textLength="15.2" lengthAdjust="spacingAndGlyphs">VCC</text>
<text transform="translate(42.9,547.5) rotate(-90)" y="3.4" text-anchor="middle" fill="#a90000" stroke="#a90000" textLength="10.07" lengthAdjust="spacingAndGlyphs" style="font-size:8.7px;stroke-width:0.45px">14</text>
<text transform="translate(47.5,564.7) rotate(-90)" y="2.6" text-anchor="end" fill="#006464" stroke="#006464" textLength="15.2" lengthAdjust="spacingAndGlyphs" style="font-size:8.7px;stroke-width:0.45px">VCC</text>
<text transform="translate(47.5,514.32)" y="3" text-anchor="middle" fill="#006464" stroke="#006464" textLength="15.2" lengthAdjust="spacingAndGlyphs">VCC</text>
<text transform="translate(42.9,635.5) rotate(-90)" y="3.4" text-anchor="middle" fill="#a90000" stroke="#a90000" textLength="4.93" lengthAdjust="spacingAndGlyphs" style="font-size:8.7px;stroke-width:0.45px">7</text>
<text transform="translate(47.5,618.3) rotate(-90)" y="2.6" text-anchor="start" fill="#006464" stroke="#006464" textLength="15.46" lengthAdjust="spacingAndGlyphs" style="font-size:8.7px;stroke-width:0.45px">GND</text>
<text transform="translate(47.5,668.73)" y="3" text-anchor="middle" fill="#006464" stroke="#006464" textLength="15.46" lengthAdjust="spacingAndGlyphs">GND</text>
<text transform="translate(76.4,585.8)" y="3" text-anchor="start" fill="#006464" stroke="#006464" textLength="15.46" lengthAdjust="spacingAndGlyphs">U5E</text>
<text transform="translate(76.4,596.8)" y="3" text-anchor="start" fill="#006464" stroke="#006464" textLength="31.37" lengthAdjust="spacingAndGlyphs">74HC00</text>
<text transform="translate(42.5,707.31)" y="3" text-anchor="middle" fill="#006464" stroke="#006464" textLength="15.2" lengthAdjust="spacingAndGlyphs">VCC</text>
<text transform="translate(42.5,784.52)" y="3" text-anchor="middle" fill="#006464" stroke="#006464" textLength="15.46" lengthAdjust="spacingAndGlyphs">GND</text>
<text transform="translate(59.8,739.8)" y="3" text-anchor="start" fill="#006464" stroke="#006464" textLength="10.32" lengthAdjust="spacingAndGlyphs">C1</text>
<text transform="translate(59.8,750.8)" y="3" text-anchor="start" fill="#006464" stroke="#006464" textLength="17.51" lengthAdjust="spacingAndGlyphs">0.1u</text>
<text transform="translate(97.5,707.31)" y="3" text-anchor="middle" fill="#006464" stroke="#006464" textLength="15.2" lengthAdjust="spacingAndGlyphs">VCC</text>
<text transform="translate(97.5,784.52)" y="3" text-anchor="middle" fill="#006464" stroke="#006464" textLength="15.46" lengthAdjust="spacingAndGlyphs">GND</text>
<text transform="translate(114.8,739.8)" y="3" text-anchor="start" fill="#006464" stroke="#006464" textLength="10.32" lengthAdjust="spacingAndGlyphs">C2</text>
<text transform="translate(114.8,750.8)" y="3" text-anchor="start" fill="#006464" stroke="#006464" textLength="17.51" lengthAdjust="spacingAndGlyphs">0.1u</text>
<text transform="translate(158.5,707.31)" y="3" text-anchor="middle" fill="#006464" stroke="#006464" textLength="15.2" lengthAdjust="spacingAndGlyphs">VCC</text>
<text transform="translate(158.5,784.52)" y="3" text-anchor="middle" fill="#006464" stroke="#006464" textLength="15.46" lengthAdjust="spacingAndGlyphs">GND</text>
<text transform="translate(175.8,739.8)" y="3" text-anchor="start" fill="#006464" stroke="#006464" textLength="10.32" lengthAdjust="spacingAndGlyphs">C3</text>
<text transform="translate(175.8,750.8)" y="3" text-anchor="start" fill="#006464" stroke="#006464" textLength="17.51" lengthAdjust="spacingAndGlyphs">0.1u</text>
<text transform="translate(213.5,707.31)" y="3" text-anchor="middle" fill="#006464" stroke="#006464" textLength="15.2" lengthAdjust="spacingAndGlyphs">VCC</text>
<text transform="translate(213.5,784.52)" y="3" text-anchor="middle" fill="#006464" stroke="#006464" textLength="15.46" lengthAdjust="spacingAndGlyphs">GND</text>
<text transform="translate(230.8,739.8)" y="3" text-anchor="start" fill="#006464" stroke="#006464" textLength="10.32" lengthAdjust="spacingAndGlyphs">C4</text>
<text transform="translate(230.8,750.8)" y="3" text-anchor="start" fill="#006464" stroke="#006464" textLength="17.51" lengthAdjust="spacingAndGlyphs">0.1u</text>
<text transform="translate(268.5,707.31)" y="3" text-anchor="middle" fill="#006464" stroke="#006464" textLength="15.2" lengthAdjust="spacingAndGlyphs">VCC</text>
<text transform="translate(268.5,784.52)" y="3" text-anchor="middle" fill="#006464" stroke="#006464" textLength="15.46" lengthAdjust="spacingAndGlyphs">GND</text>
<text transform="translate(285.8,739.8)" y="3" text-anchor="start" fill="#006464" stroke="#006464" textLength="10.32" lengthAdjust="spacingAndGlyphs">C5</text>
<text transform="translate(285.8,750.8)" y="3" text-anchor="start" fill="#006464" stroke="#006464" textLength="17.51" lengthAdjust="spacingAndGlyphs">0.1u</text>
<text transform="translate(37.7,692)" y="3.06" text-anchor="start" fill="#0000c2" stroke="#0000c2" textLength="140.66" lengthAdjust="spacingAndGlyphs">C1 next to U1, C2 next to U2, ...</text>
<text transform="translate(349.2,753.8)" y="6.1" text-anchor="start" fill="#0000c2" stroke="#0000c2" textLength="214.82" lengthAdjust="spacing" style="font-size:18.4px;stroke-width:0px" fill-opacity="0.82">65C02 5-chips computer</text>
<text transform="translate(349.2,771.8)" y="6.1" text-anchor="start" fill="#0000c2" stroke="#0000c2" textLength="305.02" lengthAdjust="spacing" style="font-size:18.4px;stroke-width:0px" fill-opacity="0.82">Andre Adrian, DL1ADR, 2026-01-29</text>
<text transform="translate(731.8,520.31) rotate(-90)" y="3" text-anchor="middle" fill="#006464" stroke="#006464" textLength="34.71" lengthAdjust="spacingAndGlyphs">SW_Push</text>
<text transform="translate(743.1,520.31) rotate(-90)" y="3" text-anchor="middle" fill="#006464" stroke="#006464" textLength="16.23" lengthAdjust="spacingAndGlyphs">SW1</text>
<text transform="translate(709.5,563.96)" y="3" text-anchor="middle" fill="#006464" stroke="#006464" textLength="15.46" lengthAdjust="spacingAndGlyphs">GND</text>
<text transform="translate(755.8,521.2)" y="3" text-anchor="start" fill="#0000c2" stroke="#0000c2" textLength="48.06" lengthAdjust="spacingAndGlyphs">press=reset</text>
<text transform="translate(731.8,647.13) rotate(-90)" y="3" text-anchor="middle" fill="#006464" stroke="#006464" textLength="34.71" lengthAdjust="spacingAndGlyphs">SW_Push</text>
<text transform="translate(743.1,647.13) rotate(-90)" y="3" text-anchor="middle" fill="#006464" stroke="#006464" textLength="16.23" lengthAdjust="spacingAndGlyphs">SW2</text>
<text transform="translate(709.5,602.54)" y="3" text-anchor="middle" fill="#006464" stroke="#006464" textLength="15.2" lengthAdjust="spacingAndGlyphs">VCC</text>
<text transform="translate(721.2,701.8)" y="3" text-anchor="start" fill="#006464" stroke="#006464" textLength="10.32" lengthAdjust="spacingAndGlyphs">R5</text>
<text transform="translate(721.2,712.8)" y="3" text-anchor="start" fill="#006464" stroke="#006464" textLength="14.43" lengthAdjust="spacingAndGlyphs">4k7</text>
<text transform="translate(709.5,784.52)" y="3" text-anchor="middle" fill="#006464" stroke="#006464" textLength="15.46" lengthAdjust="spacingAndGlyphs">GND</text>
<text transform="translate(1107.2,690.8)" y="3" text-anchor="start" fill="#006464" stroke="#006464" textLength="10.32" lengthAdjust="spacingAndGlyphs">R6</text>
<text transform="translate(1107.2,701.8)" y="3" text-anchor="start" fill="#006464" stroke="#006464" textLength="17" lengthAdjust="spacingAndGlyphs">2.2k</text>
<text transform="translate(1095.5,773.49)" y="3" text-anchor="middle" fill="#006464" stroke="#006464" textLength="15.46" lengthAdjust="spacingAndGlyphs">GND</text>
<text transform="translate(1107.2,728.6)" y="3" text-anchor="start" fill="#006464" stroke="#006464" textLength="10.07" lengthAdjust="spacingAndGlyphs">D1</text>
<text transform="translate(1107.2,739.6)" y="3" text-anchor="start" fill="#006464" stroke="#006464" textLength="24.7" lengthAdjust="spacingAndGlyphs">LD271</text>
<text transform="translate(901.2,701.7)" y="3" text-anchor="end" fill="#840000" stroke="#840000" textLength="50.88" lengthAdjust="spacingAndGlyphs">GND_CP2102</text>
<text transform="translate(930.5,723.87)" y="3" text-anchor="middle" fill="#006464" stroke="#006464" textLength="15.46" lengthAdjust="spacingAndGlyphs">GND</text>
<text transform="translate(901.2,734.7)" y="3" text-anchor="end" fill="#840000" stroke="#840000" textLength="49.86" lengthAdjust="spacingAndGlyphs">CTS_CP2102</text>
<text transform="translate(901.2,756.7)" y="3" text-anchor="end" fill="#840000" stroke="#840000" textLength="48.83" lengthAdjust="spacingAndGlyphs">TxD_CP2102</text>
<text transform="translate(901.2,778.7)" y="3" text-anchor="end" fill="#840000" stroke="#840000" textLength="50.11" lengthAdjust="spacingAndGlyphs">RxD_CP2102</text>
<text transform="translate(896.2,801.7)" y="3" text-anchor="end" fill="#840000" stroke="#840000" textLength="44.98" lengthAdjust="spacingAndGlyphs">5V_CP2102</text>
<text transform="translate(1034.5,778.99)" y="3" text-anchor="middle" fill="#006464" stroke="#006464" textLength="15.2" lengthAdjust="spacingAndGlyphs">VCC</text>
</g>
<g stroke="#000" stroke-opacity="0.5" stroke-width="1" fill="none"><path d="M1055 23.5H1135"/><path d="M1094.5 0V63"/></g>
</svg>
</body></html>
